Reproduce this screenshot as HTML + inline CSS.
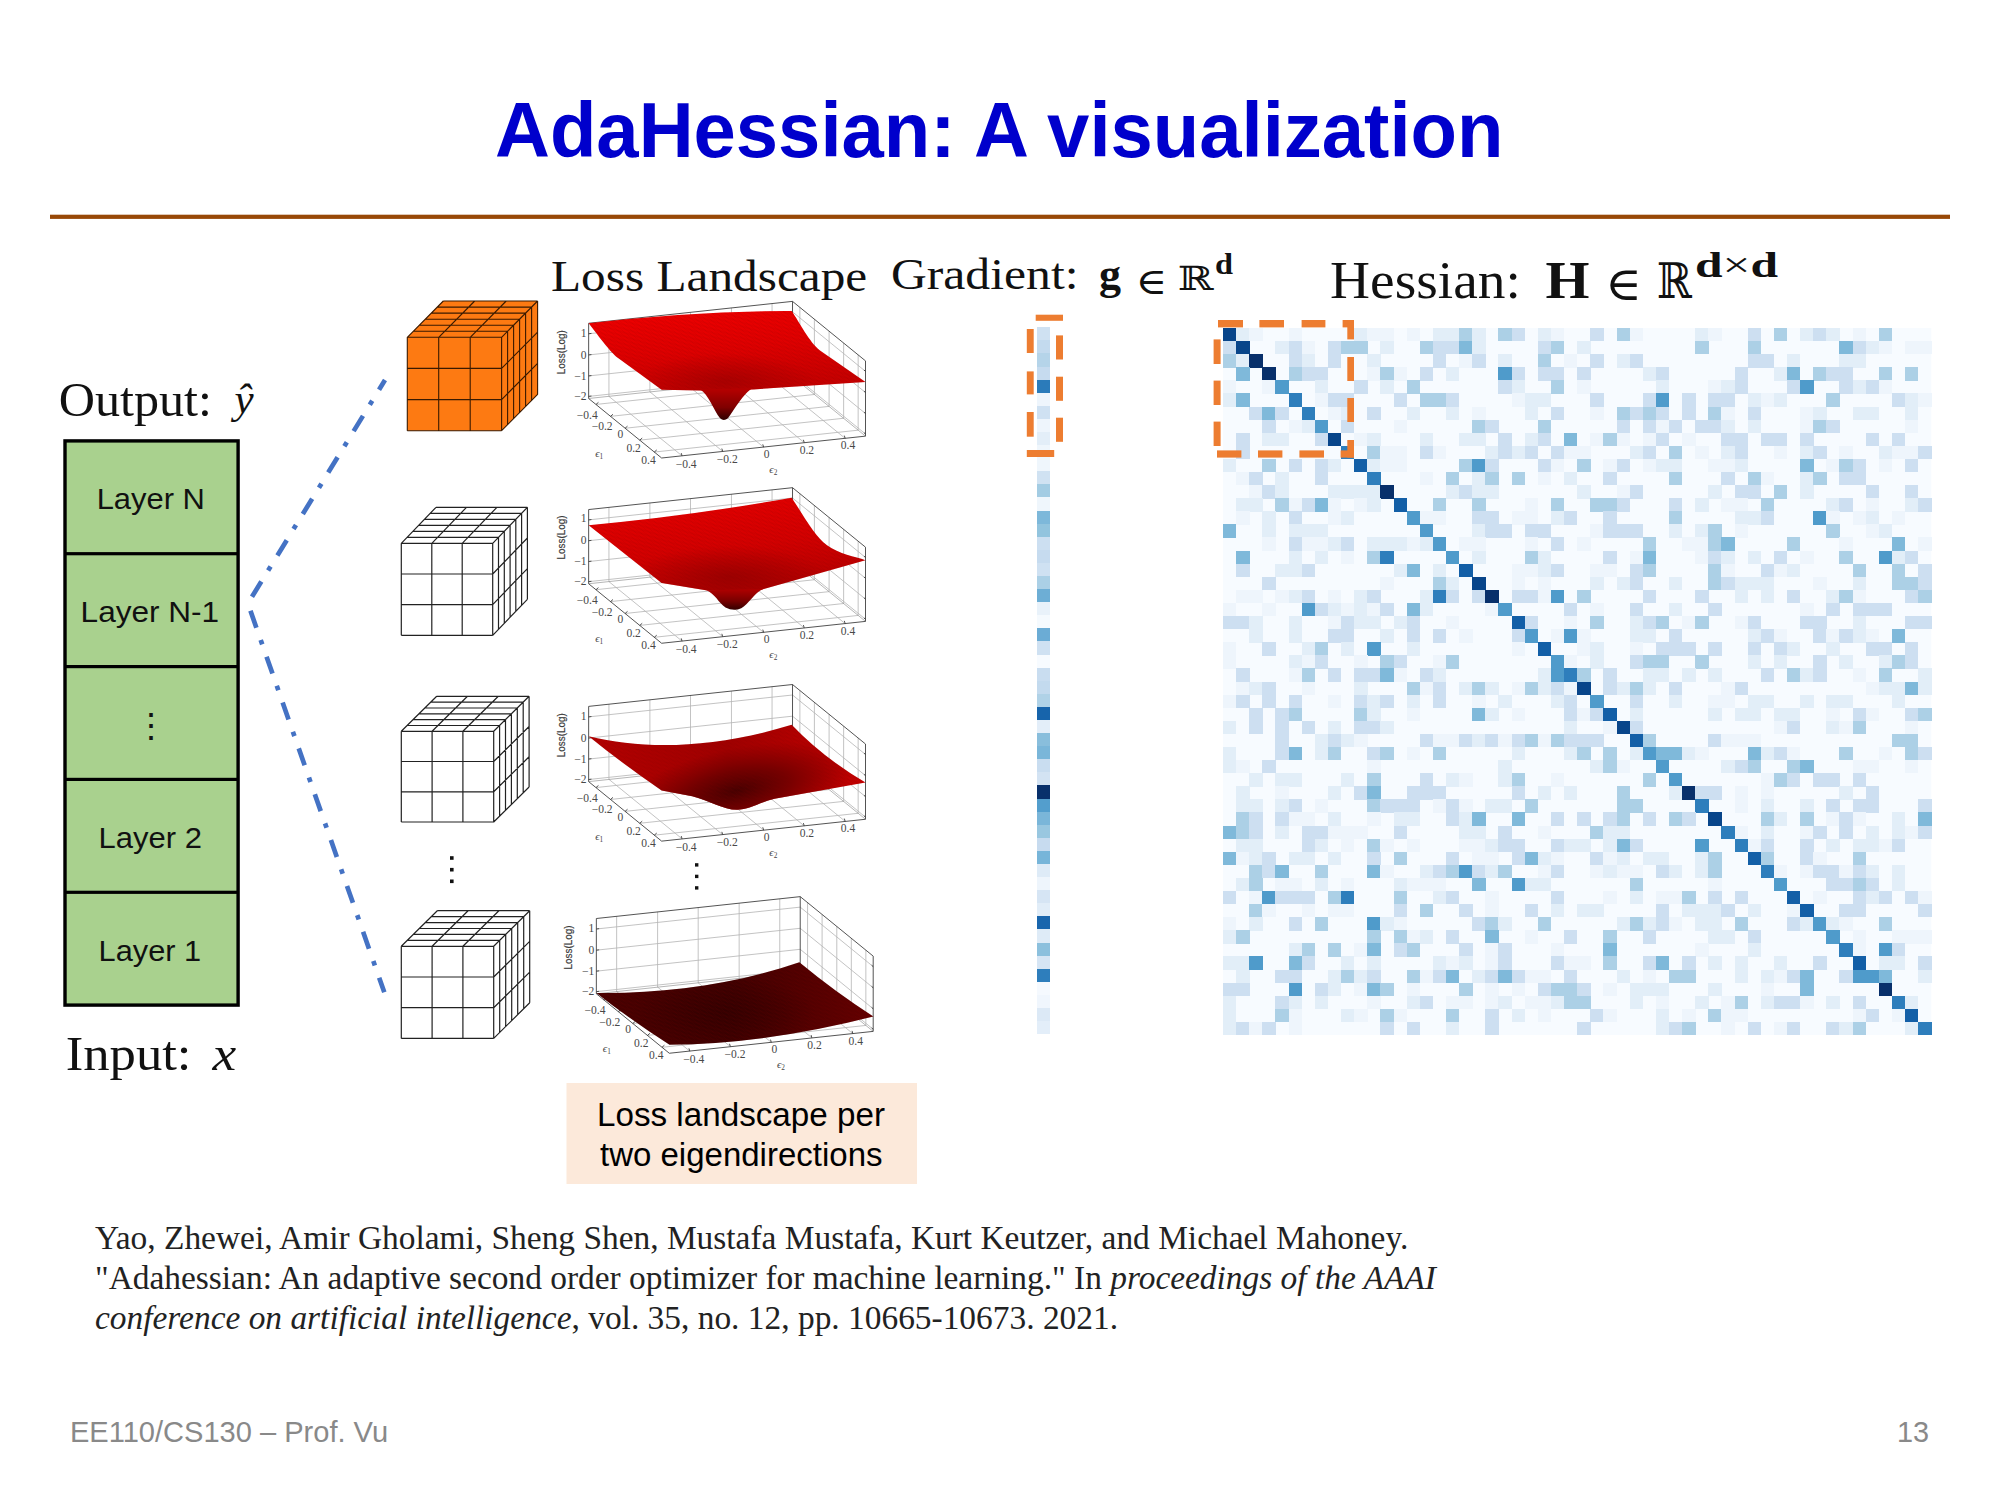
<!DOCTYPE html>
<html lang="en"><head><meta charset="utf-8"><title>AdaHessian: A visualization</title>
<style>
html,body{margin:0;padding:0;background:#fff;}
body{width:2000px;height:1500px;overflow:hidden;}
svg{display:block;}
text{white-space:pre;}
</style></head><body>
<svg width="2000" height="1500" viewBox="0 0 2000 1500">
<text x="495" y="157.3" font-family="'Liberation Sans', sans-serif" font-weight="700" font-size="78.5" fill="#0000cc" textLength="1008.4" lengthAdjust="spacingAndGlyphs">AdaHessian: A visualization</text>
<rect x="50" y="214.7" width="1900" height="4.2" fill="#984807"/>
<text x="58.7" y="415.5" font-family="'Liberation Serif', serif" font-size="48" fill="#111" textLength="153.2" lengthAdjust="spacingAndGlyphs">Output:</text>
<text x="234.6" y="413.4" font-family="'Liberation Serif', serif" font-style="italic" font-size="43" fill="#111">ŷ</text>
<rect x="65" y="440.9" width="173.1" height="564.2" fill="#a9d18e" stroke="#000" stroke-width="3.4"/>
<rect x="65" y="552.1" width="173.1" height="3.2" fill="#000"/>
<rect x="65" y="665.0" width="173.1" height="3.2" fill="#000"/>
<rect x="65" y="777.8" width="173.1" height="3.2" fill="#000"/>
<rect x="65" y="890.7" width="173.1" height="3.2" fill="#000"/>
<text x="96.7" y="509.3" font-family="'Liberation Sans', sans-serif" font-size="29" fill="#111" textLength="108.2" lengthAdjust="spacingAndGlyphs">Layer N</text>
<text x="80.6" y="622.2" font-family="'Liberation Sans', sans-serif" font-size="29" fill="#111" textLength="138.5" lengthAdjust="spacingAndGlyphs">Layer N-1</text>
<text x="151" y="736.5" text-anchor="middle" font-family="'Liberation Sans', sans-serif" font-size="34" fill="#111">⋮</text>
<text x="98.6" y="847.8" font-family="'Liberation Sans', sans-serif" font-size="29" fill="#111" textLength="103.3" lengthAdjust="spacingAndGlyphs">Layer 2</text>
<text x="98.6" y="960.7" font-family="'Liberation Sans', sans-serif" font-size="29" fill="#111" textLength="102.5" lengthAdjust="spacingAndGlyphs">Layer 1</text>
<text x="65.7" y="1069.5" font-family="'Liberation Serif', serif" font-size="48" fill="#111" textLength="125.8" lengthAdjust="spacingAndGlyphs">Input:</text>
<text x="212.6" y="1069.5" font-family="'Liberation Serif', serif" font-style="italic" font-size="48" fill="#111" textLength="23.7" lengthAdjust="spacingAndGlyphs">x</text>
<path d="M385,380L247.9,603.5" fill="none" stroke="#4472c4" stroke-width="4.7" stroke-dasharray="17.9,13,4.7,13" stroke-dashoffset="6.5"/><path d="M384.3,992.3L247.9,603.5" fill="none" stroke="#4472c4" stroke-width="4.7" stroke-dasharray="17.9,13,4.7,13" stroke-dashoffset="2.4"/>
<path d="M407.3,337.3L443.3,301.0L537.6,301.0L537.6,394.40000000000003L501.6,430.70000000000005L407.3,430.70000000000005z" fill="#fd7a12"/><path d="M407.3,337.3V430.70000000000005M407.3,337.3H501.6M438.7,337.3V430.70000000000005M407.3,368.4H501.6M470.2,337.3V430.70000000000005M407.3,399.6H501.6M501.6,337.3V430.70000000000005M407.3,430.7H501.6M407.3,337.3l36,-36.3M438.7,337.3l36,-36.3M470.2,337.3l36,-36.3M501.6,337.3l36,-36.3M413.3,331.2h94.3M419.3,325.2h94.3M425.3,319.2h94.3M431.3,313.1h94.3M437.3,307.1h94.3M443.3,301.0h94.3M501.6,337.3l36,-36.3M501.6,368.4l36,-36.3M501.6,399.6l36,-36.3M501.6,430.7l36,-36.3M507.6,331.2v93.4M513.6,325.2v93.4M519.6,319.2v93.4M525.6,313.1v93.4M531.6,307.1v93.4M537.6,301.0v93.4" fill="none" stroke="#3a1a00" stroke-width="1.1"/>
<path d="M401.3,543.3L436.0,507.29999999999995L527.4000000000001,507.29999999999995L527.4000000000001,599.3L492.70000000000005,635.3L401.3,635.3z" fill="#fff"/><path d="M401.3,543.3V635.3M401.3,543.3H492.70000000000005M431.8,543.3V635.3M401.3,574.0H492.70000000000005M462.2,543.3V635.3M401.3,604.6H492.70000000000005M492.7,543.3V635.3M401.3,635.3H492.70000000000005M401.3,543.3l34.7,-36M431.8,543.3l34.7,-36M462.2,543.3l34.7,-36M492.7,543.3l34.7,-36M407.1,537.3h91.4M412.9,531.3h91.4M418.7,525.3h91.4M424.4,519.3h91.4M430.2,513.3h91.4M436.0,507.3h91.4M492.70000000000005,543.3l34.7,-36M492.70000000000005,574.0l34.7,-36M492.70000000000005,604.6l34.7,-36M492.70000000000005,635.3l34.7,-36M498.5,537.3v92M504.3,531.3v92M510.1,525.3v92M515.8,519.3v92M521.6,513.3v92M527.4,507.3v92" fill="none" stroke="#222" stroke-width="1.2"/>
<path d="M401.3,731.3L436.7,696.3L529.1,696.3L529.1,787.0L493.70000000000005,822.0L401.3,822.0z" fill="#fff"/><path d="M401.3,731.3V822.0M401.3,731.3H493.70000000000005M432.1,731.3V822.0M401.3,761.5H493.70000000000005M462.9,731.3V822.0M401.3,791.8H493.70000000000005M493.7,731.3V822.0M401.3,822.0H493.70000000000005M401.3,731.3l35.4,-35M432.1,731.3l35.4,-35M462.9,731.3l35.4,-35M493.7,731.3l35.4,-35M407.2,725.5h92.4M413.1,719.6h92.4M419.0,713.8h92.4M424.9,708.0h92.4M430.8,702.1h92.4M436.7,696.3h92.4M493.70000000000005,731.3l35.4,-35M493.70000000000005,761.5l35.4,-35M493.70000000000005,791.8l35.4,-35M493.70000000000005,822.0l35.4,-35M499.6,725.5v90.7M505.5,719.6v90.7M511.4,713.8v90.7M517.3,708.0v90.7M523.2,702.1v90.7M529.1,696.3v90.7" fill="none" stroke="#222" stroke-width="1.2"/>
<path d="M401.3,946.3L437.3,910.6999999999999L529.7,910.6999999999999L529.7,1002.7999999999998L493.70000000000005,1038.3999999999999L401.3,1038.3999999999999z" fill="#fff"/><path d="M401.3,946.3V1038.3999999999999M401.3,946.3H493.70000000000005M432.1,946.3V1038.3999999999999M401.3,977.0H493.70000000000005M462.9,946.3V1038.3999999999999M401.3,1007.7H493.70000000000005M493.7,946.3V1038.3999999999999M401.3,1038.4H493.70000000000005M401.3,946.3l36,-35.6M432.1,946.3l36,-35.6M462.9,946.3l36,-35.6M493.7,946.3l36,-35.6M407.3,940.4h92.4M413.3,934.4h92.4M419.3,928.5h92.4M425.3,922.6h92.4M431.3,916.6h92.4M437.3,910.7h92.4M493.70000000000005,946.3l36,-35.6M493.70000000000005,977.0l36,-35.6M493.70000000000005,1007.7l36,-35.6M493.70000000000005,1038.4l36,-35.6M499.7,940.4v92.1M505.7,934.4v92.1M511.7,928.5v92.1M517.7,922.6v92.1M523.7,916.6v92.1M529.7,910.7v92.1" fill="none" stroke="#222" stroke-width="1.2"/>
<rect x="450" y="856.2" width="3.6" height="3.6" fill="#111"/>
<rect x="450" y="867.9000000000001" width="3.6" height="3.6" fill="#111"/>
<rect x="450" y="879.5" width="3.6" height="3.6" fill="#111"/>
<rect x="695" y="863.2" width="3.4" height="3.4" fill="#111"/>
<rect x="695" y="874.7" width="3.4" height="3.4" fill="#111"/>
<rect x="695" y="886.2" width="3.4" height="3.4" fill="#111"/>
<text x="551" y="291" font-family="'Liberation Serif', serif" font-size="44.5" fill="#111" textLength="316.2" lengthAdjust="spacingAndGlyphs">Loss Landscape</text>
<text x="890.9" y="288.5" font-family="'Liberation Serif', serif" font-size="43.5" fill="#111" textLength="187.6" lengthAdjust="spacingAndGlyphs">Gradient:</text>
<text x="1099" y="288.5" font-family="'Liberation Serif', serif" font-weight="700" font-size="44" fill="#111">g</text>
<text x="1135.5" y="294" font-family="'DejaVu Serif', serif" font-size="37" fill="#111" textLength="31.8" lengthAdjust="spacingAndGlyphs">∈</text>
<text x="1177.7" y="289.7" font-family="'DejaVu Serif', serif" font-size="33.5" fill="#111" textLength="35.9" lengthAdjust="spacingAndGlyphs">ℝ</text>
<text x="1215" y="274" font-family="'Liberation Serif', serif" font-weight="700" font-size="29" fill="#111" textLength="18" lengthAdjust="spacingAndGlyphs">d</text>
<text x="1330.1" y="298" font-family="'Liberation Serif', serif" font-size="53.5" fill="#111" textLength="190.8" lengthAdjust="spacingAndGlyphs">Hessian:</text>
<text x="1545.5" y="298" font-family="'Liberation Serif', serif" font-weight="700" font-size="53.5" fill="#111" textLength="44" lengthAdjust="spacingAndGlyphs">H</text>
<text x="1604.9" y="299.7" font-family="'DejaVu Serif', serif" font-size="47" fill="#111" textLength="37" lengthAdjust="spacingAndGlyphs">∈</text>
<text x="1657" y="298" font-family="'DejaVu Serif', serif" font-size="49" fill="#111" textLength="35" lengthAdjust="spacingAndGlyphs">ℝ</text>
<text x="1695" y="276.5" font-family="'Liberation Serif', serif" font-weight="700" font-size="36" fill="#111" textLength="83" lengthAdjust="spacingAndGlyphs">d<tspan font-weight="400">×</tspan>d</text>
<defs><pattern id="mesh" width="1" height="1" patternUnits="userSpaceOnUse" patternTransform="matrix(23.3 -2.5 8.34 6.8 0 0)"><path d="M0,0H1M0,0V1" stroke="#7a0000" stroke-opacity="0.4" stroke-width="0.16" fill="none"/></pattern></defs>
<g transform="translate(540,290) scale(0.175)"><defs><linearGradient id="s1" x1="0" y1="0" x2="0.25" y2="1"><stop offset="0" stop-color="#f20000"/><stop offset="0.55" stop-color="#e00000"/><stop offset="1" stop-color="#c80000"/></linearGradient>
<radialGradient id="d1" cx="1060" cy="520" r="520" gradientUnits="userSpaceOnUse" gradientTransform="translate(1060 520) scale(1 0.3) translate(-1060 -520)"><stop offset="0" stop-color="#8a0000" stop-opacity="0.5"/><stop offset="1" stop-color="#8a0000" stop-opacity="0"/></radialGradient>
<linearGradient id="w1" x1="0" y1="560" x2="0" y2="745" gradientUnits="userSpaceOnUse"><stop offset="0" stop-color="#b80000"/><stop offset="0.6" stop-color="#800000"/><stop offset="1" stop-color="#2a0000"/></linearGradient></defs><path d="M320,654L1485,529M394,608L812,948M394,608L394,178M1485,529L1485,99M403,722L1568,597M628,582L1044,922M628,582L628,152M1568,597L1568,167M486,790L1652,665M860,558L1278,898M860,558L860,128M1652,665L1652,235M570,858L1735,733M1094,532L1510,872M1094,532L1094,102M1735,733L1735,303M653,926L1818,801M1326,508L1744,848M1326,508L1326,78M1818,801L1818,371M278,608L1443,483M1443,483L1860,823M278,491L1443,366M1443,366L1860,706M278,371L1443,246M1443,246L1860,586M278,250L1443,125M1443,125L1860,465" fill="none" stroke="#b4b4b4" stroke-width="4.6"/><path d="M278,620L1443,495M1443,495L1860,835" fill="none" stroke="#8a8a8a" stroke-width="3.6"/><path d="M278,620L278,190M1443,495L1443,65M1860,835L1860,405M278,190L1443,65M1443,65L1860,405M278,620L695,960M695,960L1860,835M320,654l14,-12M812,948l-5,-16M403,722l14,-12M1044,922l-5,-16M486,790l14,-12M1278,898l-5,-16M570,858l14,-12M1510,872l-5,-16M653,926l14,-12M1744,848l-5,-16M278,608l16,-2M1860,823l-9,-8M278,491l16,-2M1860,706l-9,-8M278,371l16,-2M1860,586l-9,-8M278,250l16,-2M1860,465l-9,-8" fill="none" stroke="#3c3c3c" stroke-width="5"/><path d="M278,190Q900,118 1438,120C1480,180 1540,300 1600,345L1860,525L1215,568L915,574L695,570L450,392C410,362 370,310 278,190Z" fill="url(#s1)"/><path d="M278,190Q900,118 1438,120C1480,180 1540,300 1600,345L1860,525L1215,568L915,574L695,570L450,392C410,362 370,310 278,190Z" fill="url(#d1)"/><path d="M278,190Q900,118 1438,120C1480,180 1540,300 1600,345L1860,525L1215,568L915,574L695,570L450,392C410,362 370,310 278,190Z" fill="url(#mesh)"/><path d="M1215,562C1165,585 1105,695 1074,733Q1050,753 1029,733C992,685 962,595 915,568Z" fill="url(#w1)"/><g font-family="'Liberation Serif', serif" font-size="66" fill="#484848"><text x="266" y="267" text-anchor="end">1</text><text x="266" y="392" text-anchor="end">0</text><text x="266" y="512" text-anchor="end">−1</text><text x="266" y="627" text-anchor="end">−2</text><text x="270" y="737" text-anchor="middle">−0.4</text><text x="355" y="802" text-anchor="middle">−0.2</text><text x="460" y="847" text-anchor="middle">0</text><text x="535" y="927" text-anchor="middle">0.2</text><text x="620" y="992" text-anchor="middle">0.4</text><text x="835" y="1017" text-anchor="middle">−0.4</text><text x="1070" y="987" text-anchor="middle">−0.2</text><text x="1295" y="960" text-anchor="middle">0</text><text x="1525" y="935" text-anchor="middle">0.2</text><text x="1760" y="910" text-anchor="middle">0.4</text></g><g font-family="'Liberation Serif', serif" font-style="italic" font-size="62" fill="#484848"><text x="338" y="955" text-anchor="middle">ϵ<tspan font-size="42" dy="12" font-style="normal">1</tspan></text><text x="1333" y="1045" text-anchor="middle">ϵ<tspan font-size="42" dy="12" font-style="normal">2</tspan></text></g><text transform="translate(141,355) rotate(-90)" text-anchor="middle" font-family="'Liberation Sans', sans-serif" font-size="64" fill="#3a3a3a" stroke="#3a3a3a" stroke-width="1.2" textLength="252" lengthAdjust="spacingAndGlyphs">Loss(Log)</text></g>
<g transform="translate(540,470) scale(0.175)"><defs><linearGradient id="s2" x1="0.1" y1="0" x2="0.45" y2="1"><stop offset="0" stop-color="#ea0000"/><stop offset="0.6" stop-color="#d40000"/><stop offset="1" stop-color="#b80000"/></linearGradient>
<radialGradient id="d2" cx="1080" cy="610" r="560" gradientUnits="userSpaceOnUse" gradientTransform="translate(1080 610) scale(1 0.32) translate(-1080 -610)"><stop offset="0" stop-color="#800000" stop-opacity="0.55"/><stop offset="1" stop-color="#800000" stop-opacity="0"/></radialGradient>
<linearGradient id="w2" x1="0" y1="680" x2="0" y2="805" gradientUnits="userSpaceOnUse"><stop offset="0" stop-color="#b00000"/><stop offset="0.55" stop-color="#780000"/><stop offset="1" stop-color="#2a0000"/></linearGradient></defs><path d="M320,684L1485,559M394,638L812,978M394,638L394,214M1485,559L1485,135M403,752L1568,627M628,612L1044,952M628,612L628,188M1568,627L1568,203M486,820L1652,695M860,588L1278,928M860,588L860,164M1652,695L1652,271M570,888L1735,763M1094,562L1510,902M1094,562L1094,138M1735,763L1735,339M653,956L1818,831M1326,538L1744,878M1326,538L1326,114M1818,831L1818,407M278,638L1443,513M1443,513L1860,853M278,523L1443,398M1443,398L1860,738M278,404L1443,279M1443,279L1860,619M278,285L1443,160M1443,160L1860,500" fill="none" stroke="#b4b4b4" stroke-width="4.6"/><path d="M278,650L1443,525M1443,525L1860,865" fill="none" stroke="#8a8a8a" stroke-width="3.6"/><path d="M278,650L278,226M1443,525L1443,101M1860,865L1860,441M278,226L1443,101M1443,101L1860,441M278,650L695,990M695,990L1860,865M320,684l14,-12M812,978l-5,-16M403,752l14,-12M1044,952l-5,-16M486,820l14,-12M1278,928l-5,-16M570,888l14,-12M1510,902l-5,-16M653,956l14,-12M1744,878l-5,-16M278,638l16,-2M1860,853l-9,-8M278,523l16,-2M1860,738l-9,-8M278,404l16,-2M1860,619l-9,-8M278,285l16,-2M1860,500l-9,-8" fill="none" stroke="#3c3c3c" stroke-width="5"/><path d="M278,315Q860,262 1438,158C1500,250 1570,380 1640,430S1800,495 1860,515L1260,685L965,690L695,645Z" fill="url(#s2)"/><path d="M278,315Q860,262 1438,158C1500,250 1570,380 1640,430S1800,495 1860,515L1260,685L965,690L695,645Z" fill="url(#d2)"/><path d="M278,315Q860,262 1438,158C1500,250 1570,380 1640,430S1800,495 1860,515L1260,685L965,690L695,645Z" fill="url(#mesh)"/><path d="M1275,680C1225,700 1190,770 1150,790Q1105,810 1060,785C1020,760 1000,705 950,687Z" fill="url(#w2)"/><g font-family="'Liberation Serif', serif" font-size="66" fill="#484848"><text x="266" y="297" text-anchor="end">1</text><text x="266" y="422" text-anchor="end">0</text><text x="266" y="542" text-anchor="end">−1</text><text x="266" y="657" text-anchor="end">−2</text><text x="270" y="767" text-anchor="middle">−0.4</text><text x="355" y="832" text-anchor="middle">−0.2</text><text x="460" y="877" text-anchor="middle">0</text><text x="535" y="957" text-anchor="middle">0.2</text><text x="620" y="1022" text-anchor="middle">0.4</text><text x="835" y="1047" text-anchor="middle">−0.4</text><text x="1070" y="1017" text-anchor="middle">−0.2</text><text x="1295" y="990" text-anchor="middle">0</text><text x="1525" y="965" text-anchor="middle">0.2</text><text x="1760" y="940" text-anchor="middle">0.4</text></g><g font-family="'Liberation Serif', serif" font-style="italic" font-size="62" fill="#484848"><text x="338" y="985" text-anchor="middle">ϵ<tspan font-size="42" dy="12" font-style="normal">1</tspan></text><text x="1333" y="1075" text-anchor="middle">ϵ<tspan font-size="42" dy="12" font-style="normal">2</tspan></text></g><text transform="translate(141,385) rotate(-90)" text-anchor="middle" font-family="'Liberation Sans', sans-serif" font-size="64" fill="#3a3a3a" stroke="#3a3a3a" stroke-width="1.2" textLength="252" lengthAdjust="spacingAndGlyphs">Loss(Log)</text></g>
<g transform="translate(540,660) scale(0.175)"><defs><linearGradient id="s3" x1="0" y1="0" x2="1" y2="0"><stop offset="0" stop-color="#b40000"/><stop offset="0.5" stop-color="#a00000"/><stop offset="1" stop-color="#c40000"/></linearGradient>
<radialGradient id="d3" cx="1120" cy="748" r="680" gradientUnits="userSpaceOnUse" gradientTransform="translate(1120 748) rotate(-12) scale(1 0.36) translate(-1120 -748)"><stop offset="0" stop-color="#3a0000" stop-opacity="0.9"/><stop offset="0.45" stop-color="#500000" stop-opacity="0.6"/><stop offset="1" stop-color="#600000" stop-opacity="0"/></radialGradient></defs><path d="M320,729L1485,604M394,682L812,1022M394,682L394,252M1485,604L1485,174M403,797L1568,672M628,658L1044,998M628,658L628,228M1568,672L1568,242M486,865L1652,740M860,632L1278,972M860,632L860,202M1652,740L1652,310M570,933L1735,808M1094,608L1510,948M1094,608L1094,178M1735,808L1735,378M653,1001L1818,876M1326,582L1744,922M1326,582L1326,152M1818,876L1818,446M278,683L1443,558M1443,558L1860,898M278,566L1443,441M1443,441L1860,781M278,446L1443,321M1443,321L1860,661M278,325L1443,200M1443,200L1860,540" fill="none" stroke="#b4b4b4" stroke-width="4.6"/><path d="M278,695L1443,570M1443,570L1860,910" fill="none" stroke="#8a8a8a" stroke-width="3.6"/><path d="M278,695L278,265M1443,570L1443,140M1860,910L1860,480M278,265L1443,140M1443,140L1860,480M278,695L695,1035M695,1035L1860,910M320,729l14,-12M812,1022l-5,-16M403,797l14,-12M1044,998l-5,-16M486,865l14,-12M1278,972l-5,-16M570,933l14,-12M1510,948l-5,-16M653,1001l14,-12M1744,922l-5,-16M278,683l16,-2M1860,898l-9,-8M278,566l16,-2M1860,781l-9,-8M278,446l16,-2M1860,661l-9,-8M278,325l16,-2M1860,540l-9,-8" fill="none" stroke="#3c3c3c" stroke-width="5"/><path d="M278,435C600,515 1000,505 1438,370Q1620,560 1860,700L1340,793C1260,812 1195,856 1125,856C1050,856 960,800 870,778L695,745Q480,600 278,435Z" fill="url(#s3)"/><path d="M278,435C600,515 1000,505 1438,370Q1620,560 1860,700L1340,793C1260,812 1195,856 1125,856C1050,856 960,800 870,778L695,745Q480,600 278,435Z" fill="url(#d3)"/><path d="M278,435C600,515 1000,505 1438,370Q1620,560 1860,700L1340,793C1260,812 1195,856 1125,856C1050,856 960,800 870,778L695,745Q480,600 278,435Z" fill="url(#mesh)"/><g font-family="'Liberation Serif', serif" font-size="66" fill="#484848"><text x="266" y="342" text-anchor="end">1</text><text x="266" y="467" text-anchor="end">0</text><text x="266" y="587" text-anchor="end">−1</text><text x="266" y="702" text-anchor="end">−2</text><text x="270" y="812" text-anchor="middle">−0.4</text><text x="355" y="877" text-anchor="middle">−0.2</text><text x="460" y="922" text-anchor="middle">0</text><text x="535" y="1002" text-anchor="middle">0.2</text><text x="620" y="1067" text-anchor="middle">0.4</text><text x="835" y="1092" text-anchor="middle">−0.4</text><text x="1070" y="1062" text-anchor="middle">−0.2</text><text x="1295" y="1035" text-anchor="middle">0</text><text x="1525" y="1010" text-anchor="middle">0.2</text><text x="1760" y="985" text-anchor="middle">0.4</text></g><g font-family="'Liberation Serif', serif" font-style="italic" font-size="62" fill="#484848"><text x="338" y="1030" text-anchor="middle">ϵ<tspan font-size="42" dy="12" font-style="normal">1</tspan></text><text x="1333" y="1120" text-anchor="middle">ϵ<tspan font-size="42" dy="12" font-style="normal">2</tspan></text></g><text transform="translate(141,430) rotate(-90)" text-anchor="middle" font-family="'Liberation Sans', sans-serif" font-size="64" fill="#3a3a3a" stroke="#3a3a3a" stroke-width="1.2" textLength="252" lengthAdjust="spacingAndGlyphs">Loss(Log)</text></g>
<g transform="translate(540,880) scale(0.175)"><defs><linearGradient id="s4" x1="0" y1="0" x2="1" y2="0"><stop offset="0" stop-color="#460000"/><stop offset="0.5" stop-color="#3e0000"/><stop offset="1" stop-color="#620000"/></linearGradient>
<radialGradient id="d4" cx="1050" cy="760" r="520" gradientUnits="userSpaceOnUse" gradientTransform="translate(1050 760) scale(1 0.4) translate(-1050 -760)"><stop offset="0" stop-color="#2c0000" stop-opacity="0.7"/><stop offset="1" stop-color="#2c0000" stop-opacity="0"/></radialGradient></defs><path d="M364,684L1529,559M438,638L856,978M438,638L438,208M1529,559L1529,129M447,752L1612,627M672,612L1088,952M672,612L672,182M1612,627L1612,197M530,820L1696,695M904,588L1322,928M904,588L904,158M1696,695L1696,265M614,888L1779,763M1138,562L1554,902M1138,562L1138,132M1779,763L1779,333M697,956L1862,831M1370,538L1788,878M1370,538L1370,108M1862,831L1862,401M322,638L1487,513M1487,513L1904,853M322,521L1487,396M1487,396L1904,736M322,401L1487,276M1487,276L1904,616M322,280L1487,155M1487,155L1904,495" fill="none" stroke="#b4b4b4" stroke-width="4.6"/><path d="M322,650L1487,525M1487,525L1904,865" fill="none" stroke="#8a8a8a" stroke-width="3.6"/><path d="M322,650L322,220M1487,525L1487,95M1904,865L1904,435M322,220L1487,95M1487,95L1904,435M322,650L739,990M739,990L1904,865M364,684l14,-12M856,978l-5,-16M447,752l14,-12M1088,952l-5,-16M530,820l14,-12M1322,928l-5,-16M614,888l14,-12M1554,902l-5,-16M697,956l14,-12M1788,878l-5,-16M322,638l16,-2M1904,853l-9,-8M322,521l16,-2M1904,736l-9,-8M322,401l16,-2M1904,616l-9,-8M322,280l16,-2M1904,495l-9,-8" fill="none" stroke="#3c3c3c" stroke-width="5"/><path d="M322,645C700,650 1100,600 1482,470Q1685,638 1905,780Q1300,935 740,942Q520,800 322,645Z" fill="url(#s4)"/><path d="M322,645C700,650 1100,600 1482,470Q1685,638 1905,780Q1300,935 740,942Q520,800 322,645Z" fill="url(#d4)"/><path d="M322,645C700,650 1100,600 1482,470Q1685,638 1905,780Q1300,935 740,942Q520,800 322,645Z" fill="url(#mesh)"/><g font-family="'Liberation Serif', serif" font-size="66" fill="#484848"><text x="310" y="297" text-anchor="end">1</text><text x="310" y="422" text-anchor="end">0</text><text x="310" y="542" text-anchor="end">−1</text><text x="310" y="657" text-anchor="end">−2</text><text x="314" y="767" text-anchor="middle">−0.4</text><text x="399" y="832" text-anchor="middle">−0.2</text><text x="504" y="877" text-anchor="middle">0</text><text x="579" y="957" text-anchor="middle">0.2</text><text x="664" y="1022" text-anchor="middle">0.4</text><text x="879" y="1047" text-anchor="middle">−0.4</text><text x="1114" y="1017" text-anchor="middle">−0.2</text><text x="1339" y="990" text-anchor="middle">0</text><text x="1569" y="965" text-anchor="middle">0.2</text><text x="1804" y="940" text-anchor="middle">0.4</text></g><g font-family="'Liberation Serif', serif" font-style="italic" font-size="62" fill="#484848"><text x="382" y="985" text-anchor="middle">ϵ<tspan font-size="42" dy="12" font-style="normal">1</tspan></text><text x="1377" y="1075" text-anchor="middle">ϵ<tspan font-size="42" dy="12" font-style="normal">2</tspan></text></g><text transform="translate(185,385) rotate(-90)" text-anchor="middle" font-family="'Liberation Sans', sans-serif" font-size="64" fill="#3a3a3a" stroke="#3a3a3a" stroke-width="1.2" textLength="252" lengthAdjust="spacingAndGlyphs">Loss(Log)</text></g>
<g shape-rendering="crispEdges"><rect x="1037" y="327.30" width="13.4" height="13.39" fill="#cfe1f2"/><rect x="1037" y="340.39" width="13.4" height="13.39" fill="#c3daee"/><rect x="1037" y="353.48" width="13.4" height="13.39" fill="#b5d4e9"/><rect x="1037" y="366.57" width="13.4" height="13.39" fill="#c6dbef"/><rect x="1037" y="379.66" width="13.4" height="13.39" fill="#2b7bba"/><rect x="1037" y="392.75" width="13.4" height="13.39" fill="#eef5fc"/><rect x="1037" y="405.84" width="13.4" height="13.39" fill="#cfe1f2"/><rect x="1037" y="418.93" width="13.4" height="13.39" fill="#eef5fc"/><rect x="1037" y="432.02" width="13.4" height="13.39" fill="#e3eef8"/><rect x="1037" y="445.11" width="13.4" height="13.39" fill="#eff6fc"/><rect x="1037" y="458.20" width="13.4" height="13.39" fill="#eff6fc"/><rect x="1037" y="471.29" width="13.4" height="13.39" fill="#d0e2f2"/><rect x="1037" y="484.38" width="13.4" height="13.39" fill="#a3cce3"/><rect x="1037" y="497.47" width="13.4" height="13.39" fill="#eff6fc"/><rect x="1037" y="510.56" width="13.4" height="13.39" fill="#7db8da"/><rect x="1037" y="523.65" width="13.4" height="13.39" fill="#92c4de"/><rect x="1037" y="536.74" width="13.4" height="13.39" fill="#ccdff1"/><rect x="1037" y="549.83" width="13.4" height="13.39" fill="#c6dbef"/><rect x="1037" y="562.92" width="13.4" height="13.39" fill="#cfe1f2"/><rect x="1037" y="576.01" width="13.4" height="13.39" fill="#abd0e6"/><rect x="1037" y="589.10" width="13.4" height="13.39" fill="#6daed5"/><rect x="1037" y="602.19" width="13.4" height="13.39" fill="#e9f2fa"/><rect x="1037" y="615.28" width="13.4" height="13.39" fill="#f5fafe"/><rect x="1037" y="628.37" width="13.4" height="13.39" fill="#6bacd5"/><rect x="1037" y="641.46" width="13.4" height="13.39" fill="#cfe1f2"/><rect x="1037" y="654.55" width="13.4" height="13.39" fill="#f7fbff"/><rect x="1037" y="667.64" width="13.4" height="13.39" fill="#c9ddf0"/><rect x="1037" y="680.73" width="13.4" height="13.39" fill="#c3daee"/><rect x="1037" y="693.82" width="13.4" height="13.39" fill="#b0d2e7"/><rect x="1037" y="706.91" width="13.4" height="13.39" fill="#1764ab"/><rect x="1037" y="720.00" width="13.4" height="13.39" fill="#e3eef9"/><rect x="1037" y="733.09" width="13.4" height="13.39" fill="#89bedc"/><rect x="1037" y="746.18" width="13.4" height="13.39" fill="#7ab6d9"/><rect x="1037" y="759.27" width="13.4" height="13.39" fill="#c9ddf0"/><rect x="1037" y="772.36" width="13.4" height="13.39" fill="#d3e3f3"/><rect x="1037" y="785.45" width="13.4" height="13.39" fill="#08306b"/><rect x="1037" y="798.54" width="13.4" height="13.39" fill="#539ecd"/><rect x="1037" y="811.63" width="13.4" height="13.39" fill="#7ab6d9"/><rect x="1037" y="824.72" width="13.4" height="13.39" fill="#99c7e0"/><rect x="1037" y="837.81" width="13.4" height="13.39" fill="#c7dbef"/><rect x="1037" y="850.90" width="13.4" height="13.39" fill="#77b5d9"/><rect x="1037" y="863.99" width="13.4" height="13.39" fill="#deebf7"/><rect x="1037" y="877.08" width="13.4" height="13.39" fill="#eef5fc"/><rect x="1037" y="890.17" width="13.4" height="13.39" fill="#d6e5f4"/><rect x="1037" y="903.26" width="13.4" height="13.39" fill="#e1edf8"/><rect x="1037" y="916.35" width="13.4" height="13.39" fill="#1966ad"/><rect x="1037" y="929.44" width="13.4" height="13.39" fill="#deebf7"/><rect x="1037" y="942.53" width="13.4" height="13.39" fill="#8cc0dd"/><rect x="1037" y="955.62" width="13.4" height="13.39" fill="#d6e5f4"/><rect x="1037" y="968.71" width="13.4" height="13.39" fill="#2e7ebc"/><rect x="1037" y="981.80" width="13.4" height="13.39" fill="#f5f9fe"/><rect x="1037" y="994.89" width="13.4" height="13.39" fill="#f0f6fd"/><rect x="1037" y="1007.98" width="13.4" height="13.39" fill="#dce9f6"/><rect x="1037" y="1021.07" width="13.4" height="13.39" fill="#e3eef9"/></g><rect x="1035.7" y="314.7" width="27.3" height="6.1" fill="#ed7d31"/><rect x="1026.8" y="450" width="27.4" height="7" fill="#ed7d31"/><rect x="1026.8" y="329" width="6.9" height="24" fill="#ed7d31"/><rect x="1026.8" y="371.4" width="6.9" height="23" fill="#ed7d31"/><rect x="1026.8" y="412" width="6.9" height="24.7" fill="#ed7d31"/><rect x="1056" y="335.4" width="7" height="24.1" fill="#ed7d31"/><rect x="1056" y="376.7" width="7" height="24.1" fill="#ed7d31"/><rect x="1056" y="417.7" width="7" height="24.1" fill="#ed7d31"/>
<rect x="1223.0" y="328.0" width="708.3" height="707" fill="#f7fbff"/><g shape-rendering="crispEdges"><rect x="1223.00" y="328.00" width="13.42" height="13.39" fill="#08458a"/><rect x="1236.12" y="328.00" width="13.42" height="13.39" fill="#e2eef8"/><rect x="1249.23" y="328.00" width="13.42" height="13.39" fill="#eef5fc"/><rect x="1288.58" y="328.00" width="13.42" height="13.39" fill="#eef5fc"/><rect x="1354.17" y="328.00" width="13.42" height="13.39" fill="#e2eef8"/><rect x="1367.28" y="328.00" width="13.42" height="13.39" fill="#eef5fc"/><rect x="1380.40" y="328.00" width="13.42" height="13.39" fill="#eef5fc"/><rect x="1406.63" y="328.00" width="13.42" height="13.39" fill="#eef5fc"/><rect x="1432.87" y="328.00" width="13.42" height="13.39" fill="#e2eef8"/><rect x="1445.98" y="328.00" width="13.42" height="13.39" fill="#e2eef8"/><rect x="1459.10" y="328.00" width="13.42" height="13.39" fill="#acd0e6"/><rect x="1472.22" y="328.00" width="13.42" height="13.39" fill="#e2eef8"/><rect x="1498.45" y="328.00" width="13.42" height="13.39" fill="#acd0e6"/><rect x="1511.57" y="328.00" width="13.42" height="13.39" fill="#cddff1"/><rect x="1537.80" y="328.00" width="13.42" height="13.39" fill="#e2eef8"/><rect x="1550.92" y="328.00" width="13.42" height="13.39" fill="#eef5fc"/><rect x="1590.27" y="328.00" width="13.42" height="13.39" fill="#cddff1"/><rect x="1616.50" y="328.00" width="13.42" height="13.39" fill="#acd0e6"/><rect x="1629.62" y="328.00" width="13.42" height="13.39" fill="#eef5fc"/><rect x="1695.20" y="328.00" width="13.42" height="13.39" fill="#e2eef8"/><rect x="1708.32" y="328.00" width="13.42" height="13.39" fill="#eef5fc"/><rect x="1747.67" y="328.00" width="13.42" height="13.39" fill="#cddff1"/><rect x="1773.90" y="328.00" width="13.42" height="13.39" fill="#acd0e6"/><rect x="1800.13" y="328.00" width="13.42" height="13.39" fill="#e2eef8"/><rect x="1813.25" y="328.00" width="13.42" height="13.39" fill="#cddff1"/><rect x="1826.37" y="328.00" width="13.42" height="13.39" fill="#e2eef8"/><rect x="1852.60" y="328.00" width="13.42" height="13.39" fill="#eef5fc"/><rect x="1878.83" y="328.00" width="13.42" height="13.39" fill="#acd0e6"/><rect x="1223.00" y="341.09" width="13.42" height="13.39" fill="#cddff1"/><rect x="1236.12" y="341.09" width="13.42" height="13.39" fill="#08458a"/><rect x="1275.47" y="341.09" width="13.42" height="13.39" fill="#e2eef8"/><rect x="1288.58" y="341.09" width="13.42" height="13.39" fill="#cddff1"/><rect x="1301.70" y="341.09" width="13.42" height="13.39" fill="#eef5fc"/><rect x="1327.93" y="341.09" width="13.42" height="13.39" fill="#cddff1"/><rect x="1341.05" y="341.09" width="13.42" height="13.39" fill="#acd0e6"/><rect x="1354.17" y="341.09" width="13.42" height="13.39" fill="#acd0e6"/><rect x="1380.40" y="341.09" width="13.42" height="13.39" fill="#e2eef8"/><rect x="1419.75" y="341.09" width="13.42" height="13.39" fill="#acd0e6"/><rect x="1432.87" y="341.09" width="13.42" height="13.39" fill="#cddff1"/><rect x="1445.98" y="341.09" width="13.42" height="13.39" fill="#cddff1"/><rect x="1459.10" y="341.09" width="13.42" height="13.39" fill="#7fb9da"/><rect x="1472.22" y="341.09" width="13.42" height="13.39" fill="#e2eef8"/><rect x="1537.80" y="341.09" width="13.42" height="13.39" fill="#cddff1"/><rect x="1550.92" y="341.09" width="13.42" height="13.39" fill="#acd0e6"/><rect x="1577.15" y="341.09" width="13.42" height="13.39" fill="#e2eef8"/><rect x="1695.20" y="341.09" width="13.42" height="13.39" fill="#acd0e6"/><rect x="1747.67" y="341.09" width="13.42" height="13.39" fill="#acd0e6"/><rect x="1839.48" y="341.09" width="13.42" height="13.39" fill="#7fb9da"/><rect x="1852.60" y="341.09" width="13.42" height="13.39" fill="#cddff1"/><rect x="1865.72" y="341.09" width="13.42" height="13.39" fill="#e2eef8"/><rect x="1878.83" y="341.09" width="13.42" height="13.39" fill="#eef5fc"/><rect x="1905.07" y="341.09" width="13.42" height="13.39" fill="#eef5fc"/><rect x="1918.18" y="341.09" width="13.42" height="13.39" fill="#eef5fc"/><rect x="1223.00" y="354.19" width="13.42" height="13.39" fill="#acd0e6"/><rect x="1236.12" y="354.19" width="13.42" height="13.39" fill="#e2eef8"/><rect x="1249.23" y="354.19" width="13.42" height="13.39" fill="#08306b"/><rect x="1288.58" y="354.19" width="13.42" height="13.39" fill="#cddff1"/><rect x="1301.70" y="354.19" width="13.42" height="13.39" fill="#e2eef8"/><rect x="1327.93" y="354.19" width="13.42" height="13.39" fill="#cddff1"/><rect x="1367.28" y="354.19" width="13.42" height="13.39" fill="#e2eef8"/><rect x="1432.87" y="354.19" width="13.42" height="13.39" fill="#cddff1"/><rect x="1459.10" y="354.19" width="13.42" height="13.39" fill="#eef5fc"/><rect x="1472.22" y="354.19" width="13.42" height="13.39" fill="#cddff1"/><rect x="1498.45" y="354.19" width="13.42" height="13.39" fill="#e2eef8"/><rect x="1537.80" y="354.19" width="13.42" height="13.39" fill="#acd0e6"/><rect x="1564.03" y="354.19" width="13.42" height="13.39" fill="#eef5fc"/><rect x="1590.27" y="354.19" width="13.42" height="13.39" fill="#cddff1"/><rect x="1616.50" y="354.19" width="13.42" height="13.39" fill="#e2eef8"/><rect x="1629.62" y="354.19" width="13.42" height="13.39" fill="#cddff1"/><rect x="1747.67" y="354.19" width="13.42" height="13.39" fill="#cddff1"/><rect x="1760.78" y="354.19" width="13.42" height="13.39" fill="#cddff1"/><rect x="1787.02" y="354.19" width="13.42" height="13.39" fill="#e2eef8"/><rect x="1839.48" y="354.19" width="13.42" height="13.39" fill="#e2eef8"/><rect x="1852.60" y="354.19" width="13.42" height="13.39" fill="#e2eef8"/><rect x="1236.12" y="367.28" width="13.42" height="13.39" fill="#7fb9da"/><rect x="1262.35" y="367.28" width="13.42" height="13.39" fill="#08306b"/><rect x="1288.58" y="367.28" width="13.42" height="13.39" fill="#acd0e6"/><rect x="1301.70" y="367.28" width="13.42" height="13.39" fill="#cddff1"/><rect x="1314.82" y="367.28" width="13.42" height="13.39" fill="#cddff1"/><rect x="1367.28" y="367.28" width="13.42" height="13.39" fill="#eef5fc"/><rect x="1380.40" y="367.28" width="13.42" height="13.39" fill="#acd0e6"/><rect x="1393.52" y="367.28" width="13.42" height="13.39" fill="#eef5fc"/><rect x="1419.75" y="367.28" width="13.42" height="13.39" fill="#cddff1"/><rect x="1445.98" y="367.28" width="13.42" height="13.39" fill="#e2eef8"/><rect x="1498.45" y="367.28" width="13.42" height="13.39" fill="#4f9bcb"/><rect x="1511.57" y="367.28" width="13.42" height="13.39" fill="#cddff1"/><rect x="1537.80" y="367.28" width="13.42" height="13.39" fill="#cddff1"/><rect x="1550.92" y="367.28" width="13.42" height="13.39" fill="#cddff1"/><rect x="1577.15" y="367.28" width="13.42" height="13.39" fill="#cddff1"/><rect x="1642.73" y="367.28" width="13.42" height="13.39" fill="#e2eef8"/><rect x="1655.85" y="367.28" width="13.42" height="13.39" fill="#cddff1"/><rect x="1734.55" y="367.28" width="13.42" height="13.39" fill="#cddff1"/><rect x="1773.90" y="367.28" width="13.42" height="13.39" fill="#e2eef8"/><rect x="1787.02" y="367.28" width="13.42" height="13.39" fill="#7fb9da"/><rect x="1813.25" y="367.28" width="13.42" height="13.39" fill="#acd0e6"/><rect x="1826.37" y="367.28" width="13.42" height="13.39" fill="#cddff1"/><rect x="1839.48" y="367.28" width="13.42" height="13.39" fill="#cddff1"/><rect x="1878.83" y="367.28" width="13.42" height="13.39" fill="#acd0e6"/><rect x="1905.07" y="367.28" width="13.42" height="13.39" fill="#acd0e6"/><rect x="1223.00" y="380.37" width="13.42" height="13.39" fill="#eef5fc"/><rect x="1262.35" y="380.37" width="13.42" height="13.39" fill="#eef5fc"/><rect x="1275.47" y="380.37" width="13.42" height="13.39" fill="#4f9bcb"/><rect x="1314.82" y="380.37" width="13.42" height="13.39" fill="#e2eef8"/><rect x="1354.17" y="380.37" width="13.42" height="13.39" fill="#cddff1"/><rect x="1380.40" y="380.37" width="13.42" height="13.39" fill="#e2eef8"/><rect x="1406.63" y="380.37" width="13.42" height="13.39" fill="#acd0e6"/><rect x="1498.45" y="380.37" width="13.42" height="13.39" fill="#cddff1"/><rect x="1511.57" y="380.37" width="13.42" height="13.39" fill="#e2eef8"/><rect x="1550.92" y="380.37" width="13.42" height="13.39" fill="#acd0e6"/><rect x="1577.15" y="380.37" width="13.42" height="13.39" fill="#eef5fc"/><rect x="1655.85" y="380.37" width="13.42" height="13.39" fill="#e2eef8"/><rect x="1708.32" y="380.37" width="13.42" height="13.39" fill="#eef5fc"/><rect x="1721.43" y="380.37" width="13.42" height="13.39" fill="#e2eef8"/><rect x="1734.55" y="380.37" width="13.42" height="13.39" fill="#cddff1"/><rect x="1787.02" y="380.37" width="13.42" height="13.39" fill="#cddff1"/><rect x="1800.13" y="380.37" width="13.42" height="13.39" fill="#4f9bcb"/><rect x="1839.48" y="380.37" width="13.42" height="13.39" fill="#cddff1"/><rect x="1852.60" y="380.37" width="13.42" height="13.39" fill="#e2eef8"/><rect x="1865.72" y="380.37" width="13.42" height="13.39" fill="#cddff1"/><rect x="1878.83" y="380.37" width="13.42" height="13.39" fill="#eef5fc"/><rect x="1223.00" y="393.46" width="13.42" height="13.39" fill="#e2eef8"/><rect x="1236.12" y="393.46" width="13.42" height="13.39" fill="#7fb9da"/><rect x="1288.58" y="393.46" width="13.42" height="13.39" fill="#2e7ebc"/><rect x="1314.82" y="393.46" width="13.42" height="13.39" fill="#eef5fc"/><rect x="1327.93" y="393.46" width="13.42" height="13.39" fill="#cddff1"/><rect x="1341.05" y="393.46" width="13.42" height="13.39" fill="#cddff1"/><rect x="1393.52" y="393.46" width="13.42" height="13.39" fill="#cddff1"/><rect x="1419.75" y="393.46" width="13.42" height="13.39" fill="#acd0e6"/><rect x="1432.87" y="393.46" width="13.42" height="13.39" fill="#acd0e6"/><rect x="1445.98" y="393.46" width="13.42" height="13.39" fill="#cddff1"/><rect x="1511.57" y="393.46" width="13.42" height="13.39" fill="#eef5fc"/><rect x="1524.68" y="393.46" width="13.42" height="13.39" fill="#e2eef8"/><rect x="1537.80" y="393.46" width="13.42" height="13.39" fill="#e2eef8"/><rect x="1590.27" y="393.46" width="13.42" height="13.39" fill="#cddff1"/><rect x="1642.73" y="393.46" width="13.42" height="13.39" fill="#cddff1"/><rect x="1655.85" y="393.46" width="13.42" height="13.39" fill="#4f9bcb"/><rect x="1682.08" y="393.46" width="13.42" height="13.39" fill="#cddff1"/><rect x="1708.32" y="393.46" width="13.42" height="13.39" fill="#cddff1"/><rect x="1721.43" y="393.46" width="13.42" height="13.39" fill="#cddff1"/><rect x="1747.67" y="393.46" width="13.42" height="13.39" fill="#e2eef8"/><rect x="1760.78" y="393.46" width="13.42" height="13.39" fill="#eef5fc"/><rect x="1773.90" y="393.46" width="13.42" height="13.39" fill="#e2eef8"/><rect x="1826.37" y="393.46" width="13.42" height="13.39" fill="#acd0e6"/><rect x="1891.95" y="393.46" width="13.42" height="13.39" fill="#cddff1"/><rect x="1905.07" y="393.46" width="13.42" height="13.39" fill="#e2eef8"/><rect x="1918.18" y="393.46" width="13.42" height="13.39" fill="#eef5fc"/><rect x="1249.23" y="406.56" width="13.42" height="13.39" fill="#cddff1"/><rect x="1262.35" y="406.56" width="13.42" height="13.39" fill="#7fb9da"/><rect x="1275.47" y="406.56" width="13.42" height="13.39" fill="#cddff1"/><rect x="1301.70" y="406.56" width="13.42" height="13.39" fill="#2e7ebc"/><rect x="1327.93" y="406.56" width="13.42" height="13.39" fill="#eef5fc"/><rect x="1341.05" y="406.56" width="13.42" height="13.39" fill="#e2eef8"/><rect x="1367.28" y="406.56" width="13.42" height="13.39" fill="#cddff1"/><rect x="1406.63" y="406.56" width="13.42" height="13.39" fill="#e2eef8"/><rect x="1445.98" y="406.56" width="13.42" height="13.39" fill="#e2eef8"/><rect x="1472.22" y="406.56" width="13.42" height="13.39" fill="#eef5fc"/><rect x="1524.68" y="406.56" width="13.42" height="13.39" fill="#e2eef8"/><rect x="1550.92" y="406.56" width="13.42" height="13.39" fill="#cddff1"/><rect x="1590.27" y="406.56" width="13.42" height="13.39" fill="#eef5fc"/><rect x="1616.50" y="406.56" width="13.42" height="13.39" fill="#acd0e6"/><rect x="1629.62" y="406.56" width="13.42" height="13.39" fill="#cddff1"/><rect x="1642.73" y="406.56" width="13.42" height="13.39" fill="#acd0e6"/><rect x="1655.85" y="406.56" width="13.42" height="13.39" fill="#cddff1"/><rect x="1682.08" y="406.56" width="13.42" height="13.39" fill="#cddff1"/><rect x="1708.32" y="406.56" width="13.42" height="13.39" fill="#acd0e6"/><rect x="1721.43" y="406.56" width="13.42" height="13.39" fill="#eef5fc"/><rect x="1747.67" y="406.56" width="13.42" height="13.39" fill="#cddff1"/><rect x="1800.13" y="406.56" width="13.42" height="13.39" fill="#eef5fc"/><rect x="1813.25" y="406.56" width="13.42" height="13.39" fill="#e2eef8"/><rect x="1852.60" y="406.56" width="13.42" height="13.39" fill="#e2eef8"/><rect x="1865.72" y="406.56" width="13.42" height="13.39" fill="#e2eef8"/><rect x="1905.07" y="406.56" width="13.42" height="13.39" fill="#e2eef8"/><rect x="1262.35" y="419.65" width="13.42" height="13.39" fill="#cddff1"/><rect x="1288.58" y="419.65" width="13.42" height="13.39" fill="#eef5fc"/><rect x="1301.70" y="419.65" width="13.42" height="13.39" fill="#e2eef8"/><rect x="1314.82" y="419.65" width="13.42" height="13.39" fill="#4f9bcb"/><rect x="1341.05" y="419.65" width="13.42" height="13.39" fill="#cddff1"/><rect x="1393.52" y="419.65" width="13.42" height="13.39" fill="#eef5fc"/><rect x="1472.22" y="419.65" width="13.42" height="13.39" fill="#acd0e6"/><rect x="1485.33" y="419.65" width="13.42" height="13.39" fill="#cddff1"/><rect x="1537.80" y="419.65" width="13.42" height="13.39" fill="#acd0e6"/><rect x="1616.50" y="419.65" width="13.42" height="13.39" fill="#cddff1"/><rect x="1642.73" y="419.65" width="13.42" height="13.39" fill="#cddff1"/><rect x="1655.85" y="419.65" width="13.42" height="13.39" fill="#eef5fc"/><rect x="1668.97" y="419.65" width="13.42" height="13.39" fill="#cddff1"/><rect x="1695.20" y="419.65" width="13.42" height="13.39" fill="#cddff1"/><rect x="1708.32" y="419.65" width="13.42" height="13.39" fill="#cddff1"/><rect x="1721.43" y="419.65" width="13.42" height="13.39" fill="#e2eef8"/><rect x="1747.67" y="419.65" width="13.42" height="13.39" fill="#e2eef8"/><rect x="1800.13" y="419.65" width="13.42" height="13.39" fill="#eef5fc"/><rect x="1813.25" y="419.65" width="13.42" height="13.39" fill="#acd0e6"/><rect x="1826.37" y="419.65" width="13.42" height="13.39" fill="#cddff1"/><rect x="1905.07" y="419.65" width="13.42" height="13.39" fill="#eef5fc"/><rect x="1236.12" y="432.74" width="13.42" height="13.39" fill="#cddff1"/><rect x="1262.35" y="432.74" width="13.42" height="13.39" fill="#e2eef8"/><rect x="1275.47" y="432.74" width="13.42" height="13.39" fill="#e2eef8"/><rect x="1314.82" y="432.74" width="13.42" height="13.39" fill="#cddff1"/><rect x="1327.93" y="432.74" width="13.42" height="13.39" fill="#08458a"/><rect x="1354.17" y="432.74" width="13.42" height="13.39" fill="#eef5fc"/><rect x="1367.28" y="432.74" width="13.42" height="13.39" fill="#e2eef8"/><rect x="1419.75" y="432.74" width="13.42" height="13.39" fill="#e2eef8"/><rect x="1459.10" y="432.74" width="13.42" height="13.39" fill="#e2eef8"/><rect x="1472.22" y="432.74" width="13.42" height="13.39" fill="#e2eef8"/><rect x="1498.45" y="432.74" width="13.42" height="13.39" fill="#cddff1"/><rect x="1524.68" y="432.74" width="13.42" height="13.39" fill="#e2eef8"/><rect x="1537.80" y="432.74" width="13.42" height="13.39" fill="#cddff1"/><rect x="1564.03" y="432.74" width="13.42" height="13.39" fill="#7fb9da"/><rect x="1590.27" y="432.74" width="13.42" height="13.39" fill="#eef5fc"/><rect x="1603.38" y="432.74" width="13.42" height="13.39" fill="#acd0e6"/><rect x="1616.50" y="432.74" width="13.42" height="13.39" fill="#eef5fc"/><rect x="1642.73" y="432.74" width="13.42" height="13.39" fill="#eef5fc"/><rect x="1655.85" y="432.74" width="13.42" height="13.39" fill="#cddff1"/><rect x="1682.08" y="432.74" width="13.42" height="13.39" fill="#eef5fc"/><rect x="1721.43" y="432.74" width="13.42" height="13.39" fill="#cddff1"/><rect x="1734.55" y="432.74" width="13.42" height="13.39" fill="#cddff1"/><rect x="1760.78" y="432.74" width="13.42" height="13.39" fill="#cddff1"/><rect x="1773.90" y="432.74" width="13.42" height="13.39" fill="#cddff1"/><rect x="1800.13" y="432.74" width="13.42" height="13.39" fill="#cddff1"/><rect x="1865.72" y="432.74" width="13.42" height="13.39" fill="#cddff1"/><rect x="1891.95" y="432.74" width="13.42" height="13.39" fill="#cddff1"/><rect x="1236.12" y="445.83" width="13.42" height="13.39" fill="#cddff1"/><rect x="1341.05" y="445.83" width="13.42" height="13.39" fill="#2e7ebc"/><rect x="1367.28" y="445.83" width="13.42" height="13.39" fill="#acd0e6"/><rect x="1380.40" y="445.83" width="13.42" height="13.39" fill="#eef5fc"/><rect x="1393.52" y="445.83" width="13.42" height="13.39" fill="#eef5fc"/><rect x="1419.75" y="445.83" width="13.42" height="13.39" fill="#cddff1"/><rect x="1432.87" y="445.83" width="13.42" height="13.39" fill="#eef5fc"/><rect x="1485.33" y="445.83" width="13.42" height="13.39" fill="#e2eef8"/><rect x="1498.45" y="445.83" width="13.42" height="13.39" fill="#cddff1"/><rect x="1511.57" y="445.83" width="13.42" height="13.39" fill="#e2eef8"/><rect x="1524.68" y="445.83" width="13.42" height="13.39" fill="#cddff1"/><rect x="1550.92" y="445.83" width="13.42" height="13.39" fill="#cddff1"/><rect x="1564.03" y="445.83" width="13.42" height="13.39" fill="#eef5fc"/><rect x="1577.15" y="445.83" width="13.42" height="13.39" fill="#eef5fc"/><rect x="1629.62" y="445.83" width="13.42" height="13.39" fill="#e2eef8"/><rect x="1642.73" y="445.83" width="13.42" height="13.39" fill="#cddff1"/><rect x="1668.97" y="445.83" width="13.42" height="13.39" fill="#acd0e6"/><rect x="1695.20" y="445.83" width="13.42" height="13.39" fill="#eef5fc"/><rect x="1721.43" y="445.83" width="13.42" height="13.39" fill="#e2eef8"/><rect x="1734.55" y="445.83" width="13.42" height="13.39" fill="#cddff1"/><rect x="1773.90" y="445.83" width="13.42" height="13.39" fill="#eef5fc"/><rect x="1800.13" y="445.83" width="13.42" height="13.39" fill="#e2eef8"/><rect x="1813.25" y="445.83" width="13.42" height="13.39" fill="#cddff1"/><rect x="1839.48" y="445.83" width="13.42" height="13.39" fill="#eef5fc"/><rect x="1878.83" y="445.83" width="13.42" height="13.39" fill="#e2eef8"/><rect x="1891.95" y="445.83" width="13.42" height="13.39" fill="#eef5fc"/><rect x="1905.07" y="445.83" width="13.42" height="13.39" fill="#eef5fc"/><rect x="1918.18" y="445.83" width="13.42" height="13.39" fill="#cddff1"/><rect x="1223.00" y="458.93" width="13.42" height="13.39" fill="#e2eef8"/><rect x="1262.35" y="458.93" width="13.42" height="13.39" fill="#acd0e6"/><rect x="1288.58" y="458.93" width="13.42" height="13.39" fill="#cddff1"/><rect x="1314.82" y="458.93" width="13.42" height="13.39" fill="#cddff1"/><rect x="1327.93" y="458.93" width="13.42" height="13.39" fill="#e2eef8"/><rect x="1354.17" y="458.93" width="13.42" height="13.39" fill="#135fa7"/><rect x="1367.28" y="458.93" width="13.42" height="13.39" fill="#e2eef8"/><rect x="1380.40" y="458.93" width="13.42" height="13.39" fill="#eef5fc"/><rect x="1393.52" y="458.93" width="13.42" height="13.39" fill="#eef5fc"/><rect x="1459.10" y="458.93" width="13.42" height="13.39" fill="#acd0e6"/><rect x="1472.22" y="458.93" width="13.42" height="13.39" fill="#4f9bcb"/><rect x="1485.33" y="458.93" width="13.42" height="13.39" fill="#cddff1"/><rect x="1537.80" y="458.93" width="13.42" height="13.39" fill="#cddff1"/><rect x="1550.92" y="458.93" width="13.42" height="13.39" fill="#eef5fc"/><rect x="1577.15" y="458.93" width="13.42" height="13.39" fill="#acd0e6"/><rect x="1603.38" y="458.93" width="13.42" height="13.39" fill="#eef5fc"/><rect x="1616.50" y="458.93" width="13.42" height="13.39" fill="#cddff1"/><rect x="1642.73" y="458.93" width="13.42" height="13.39" fill="#eef5fc"/><rect x="1655.85" y="458.93" width="13.42" height="13.39" fill="#e2eef8"/><rect x="1668.97" y="458.93" width="13.42" height="13.39" fill="#e2eef8"/><rect x="1708.32" y="458.93" width="13.42" height="13.39" fill="#eef5fc"/><rect x="1721.43" y="458.93" width="13.42" height="13.39" fill="#eef5fc"/><rect x="1734.55" y="458.93" width="13.42" height="13.39" fill="#e2eef8"/><rect x="1800.13" y="458.93" width="13.42" height="13.39" fill="#7fb9da"/><rect x="1826.37" y="458.93" width="13.42" height="13.39" fill="#eef5fc"/><rect x="1839.48" y="458.93" width="13.42" height="13.39" fill="#acd0e6"/><rect x="1852.60" y="458.93" width="13.42" height="13.39" fill="#cddff1"/><rect x="1878.83" y="458.93" width="13.42" height="13.39" fill="#eef5fc"/><rect x="1905.07" y="458.93" width="13.42" height="13.39" fill="#cddff1"/><rect x="1236.12" y="472.02" width="13.42" height="13.39" fill="#eef5fc"/><rect x="1249.23" y="472.02" width="13.42" height="13.39" fill="#cddff1"/><rect x="1275.47" y="472.02" width="13.42" height="13.39" fill="#e2eef8"/><rect x="1314.82" y="472.02" width="13.42" height="13.39" fill="#cddff1"/><rect x="1367.28" y="472.02" width="13.42" height="13.39" fill="#2e7ebc"/><rect x="1419.75" y="472.02" width="13.42" height="13.39" fill="#eef5fc"/><rect x="1445.98" y="472.02" width="13.42" height="13.39" fill="#acd0e6"/><rect x="1472.22" y="472.02" width="13.42" height="13.39" fill="#e2eef8"/><rect x="1485.33" y="472.02" width="13.42" height="13.39" fill="#acd0e6"/><rect x="1511.57" y="472.02" width="13.42" height="13.39" fill="#acd0e6"/><rect x="1537.80" y="472.02" width="13.42" height="13.39" fill="#eef5fc"/><rect x="1564.03" y="472.02" width="13.42" height="13.39" fill="#e2eef8"/><rect x="1603.38" y="472.02" width="13.42" height="13.39" fill="#cddff1"/><rect x="1668.97" y="472.02" width="13.42" height="13.39" fill="#acd0e6"/><rect x="1721.43" y="472.02" width="13.42" height="13.39" fill="#cddff1"/><rect x="1747.67" y="472.02" width="13.42" height="13.39" fill="#acd0e6"/><rect x="1760.78" y="472.02" width="13.42" height="13.39" fill="#eef5fc"/><rect x="1800.13" y="472.02" width="13.42" height="13.39" fill="#e2eef8"/><rect x="1813.25" y="472.02" width="13.42" height="13.39" fill="#acd0e6"/><rect x="1839.48" y="472.02" width="13.42" height="13.39" fill="#cddff1"/><rect x="1852.60" y="472.02" width="13.42" height="13.39" fill="#cddff1"/><rect x="1249.23" y="485.11" width="13.42" height="13.39" fill="#eef5fc"/><rect x="1262.35" y="485.11" width="13.42" height="13.39" fill="#cddff1"/><rect x="1275.47" y="485.11" width="13.42" height="13.39" fill="#e2eef8"/><rect x="1327.93" y="485.11" width="13.42" height="13.39" fill="#e2eef8"/><rect x="1341.05" y="485.11" width="13.42" height="13.39" fill="#e2eef8"/><rect x="1354.17" y="485.11" width="13.42" height="13.39" fill="#e2eef8"/><rect x="1367.28" y="485.11" width="13.42" height="13.39" fill="#e2eef8"/><rect x="1380.40" y="485.11" width="13.42" height="13.39" fill="#08306b"/><rect x="1445.98" y="485.11" width="13.42" height="13.39" fill="#e2eef8"/><rect x="1459.10" y="485.11" width="13.42" height="13.39" fill="#cddff1"/><rect x="1472.22" y="485.11" width="13.42" height="13.39" fill="#e2eef8"/><rect x="1485.33" y="485.11" width="13.42" height="13.39" fill="#e2eef8"/><rect x="1577.15" y="485.11" width="13.42" height="13.39" fill="#e2eef8"/><rect x="1616.50" y="485.11" width="13.42" height="13.39" fill="#eef5fc"/><rect x="1629.62" y="485.11" width="13.42" height="13.39" fill="#cddff1"/><rect x="1708.32" y="485.11" width="13.42" height="13.39" fill="#e2eef8"/><rect x="1734.55" y="485.11" width="13.42" height="13.39" fill="#cddff1"/><rect x="1747.67" y="485.11" width="13.42" height="13.39" fill="#cddff1"/><rect x="1773.90" y="485.11" width="13.42" height="13.39" fill="#acd0e6"/><rect x="1800.13" y="485.11" width="13.42" height="13.39" fill="#e2eef8"/><rect x="1865.72" y="485.11" width="13.42" height="13.39" fill="#cddff1"/><rect x="1905.07" y="485.11" width="13.42" height="13.39" fill="#cddff1"/><rect x="1236.12" y="498.20" width="13.42" height="13.39" fill="#e2eef8"/><rect x="1249.23" y="498.20" width="13.42" height="13.39" fill="#e2eef8"/><rect x="1275.47" y="498.20" width="13.42" height="13.39" fill="#acd0e6"/><rect x="1288.58" y="498.20" width="13.42" height="13.39" fill="#eef5fc"/><rect x="1301.70" y="498.20" width="13.42" height="13.39" fill="#cddff1"/><rect x="1314.82" y="498.20" width="13.42" height="13.39" fill="#7fb9da"/><rect x="1327.93" y="498.20" width="13.42" height="13.39" fill="#eef5fc"/><rect x="1354.17" y="498.20" width="13.42" height="13.39" fill="#eef5fc"/><rect x="1367.28" y="498.20" width="13.42" height="13.39" fill="#e2eef8"/><rect x="1393.52" y="498.20" width="13.42" height="13.39" fill="#135fa7"/><rect x="1432.87" y="498.20" width="13.42" height="13.39" fill="#acd0e6"/><rect x="1472.22" y="498.20" width="13.42" height="13.39" fill="#acd0e6"/><rect x="1524.68" y="498.20" width="13.42" height="13.39" fill="#eef5fc"/><rect x="1550.92" y="498.20" width="13.42" height="13.39" fill="#acd0e6"/><rect x="1590.27" y="498.20" width="13.42" height="13.39" fill="#acd0e6"/><rect x="1603.38" y="498.20" width="13.42" height="13.39" fill="#acd0e6"/><rect x="1616.50" y="498.20" width="13.42" height="13.39" fill="#cddff1"/><rect x="1668.97" y="498.20" width="13.42" height="13.39" fill="#cddff1"/><rect x="1695.20" y="498.20" width="13.42" height="13.39" fill="#e2eef8"/><rect x="1721.43" y="498.20" width="13.42" height="13.39" fill="#eef5fc"/><rect x="1734.55" y="498.20" width="13.42" height="13.39" fill="#eef5fc"/><rect x="1760.78" y="498.20" width="13.42" height="13.39" fill="#acd0e6"/><rect x="1826.37" y="498.20" width="13.42" height="13.39" fill="#e2eef8"/><rect x="1839.48" y="498.20" width="13.42" height="13.39" fill="#cddff1"/><rect x="1865.72" y="498.20" width="13.42" height="13.39" fill="#eef5fc"/><rect x="1905.07" y="498.20" width="13.42" height="13.39" fill="#e2eef8"/><rect x="1918.18" y="498.20" width="13.42" height="13.39" fill="#cddff1"/><rect x="1236.12" y="511.30" width="13.42" height="13.39" fill="#eef5fc"/><rect x="1262.35" y="511.30" width="13.42" height="13.39" fill="#e2eef8"/><rect x="1288.58" y="511.30" width="13.42" height="13.39" fill="#cddff1"/><rect x="1327.93" y="511.30" width="13.42" height="13.39" fill="#eef5fc"/><rect x="1341.05" y="511.30" width="13.42" height="13.39" fill="#e2eef8"/><rect x="1406.63" y="511.30" width="13.42" height="13.39" fill="#4f9bcb"/><rect x="1419.75" y="511.30" width="13.42" height="13.39" fill="#eef5fc"/><rect x="1432.87" y="511.30" width="13.42" height="13.39" fill="#eef5fc"/><rect x="1472.22" y="511.30" width="13.42" height="13.39" fill="#cddff1"/><rect x="1485.33" y="511.30" width="13.42" height="13.39" fill="#cddff1"/><rect x="1511.57" y="511.30" width="13.42" height="13.39" fill="#eef5fc"/><rect x="1524.68" y="511.30" width="13.42" height="13.39" fill="#eef5fc"/><rect x="1550.92" y="511.30" width="13.42" height="13.39" fill="#e2eef8"/><rect x="1564.03" y="511.30" width="13.42" height="13.39" fill="#cddff1"/><rect x="1603.38" y="511.30" width="13.42" height="13.39" fill="#cddff1"/><rect x="1668.97" y="511.30" width="13.42" height="13.39" fill="#acd0e6"/><rect x="1734.55" y="511.30" width="13.42" height="13.39" fill="#e2eef8"/><rect x="1747.67" y="511.30" width="13.42" height="13.39" fill="#e2eef8"/><rect x="1760.78" y="511.30" width="13.42" height="13.39" fill="#cddff1"/><rect x="1813.25" y="511.30" width="13.42" height="13.39" fill="#4f9bcb"/><rect x="1826.37" y="511.30" width="13.42" height="13.39" fill="#eef5fc"/><rect x="1852.60" y="511.30" width="13.42" height="13.39" fill="#eef5fc"/><rect x="1865.72" y="511.30" width="13.42" height="13.39" fill="#e2eef8"/><rect x="1891.95" y="511.30" width="13.42" height="13.39" fill="#eef5fc"/><rect x="1223.00" y="524.39" width="13.42" height="13.39" fill="#7fb9da"/><rect x="1262.35" y="524.39" width="13.42" height="13.39" fill="#e2eef8"/><rect x="1288.58" y="524.39" width="13.42" height="13.39" fill="#e2eef8"/><rect x="1301.70" y="524.39" width="13.42" height="13.39" fill="#e2eef8"/><rect x="1314.82" y="524.39" width="13.42" height="13.39" fill="#e2eef8"/><rect x="1419.75" y="524.39" width="13.42" height="13.39" fill="#4f9bcb"/><rect x="1472.22" y="524.39" width="13.42" height="13.39" fill="#e2eef8"/><rect x="1485.33" y="524.39" width="13.42" height="13.39" fill="#cddff1"/><rect x="1498.45" y="524.39" width="13.42" height="13.39" fill="#cddff1"/><rect x="1524.68" y="524.39" width="13.42" height="13.39" fill="#cddff1"/><rect x="1537.80" y="524.39" width="13.42" height="13.39" fill="#cddff1"/><rect x="1590.27" y="524.39" width="13.42" height="13.39" fill="#eef5fc"/><rect x="1603.38" y="524.39" width="13.42" height="13.39" fill="#cddff1"/><rect x="1616.50" y="524.39" width="13.42" height="13.39" fill="#cddff1"/><rect x="1629.62" y="524.39" width="13.42" height="13.39" fill="#cddff1"/><rect x="1668.97" y="524.39" width="13.42" height="13.39" fill="#e2eef8"/><rect x="1695.20" y="524.39" width="13.42" height="13.39" fill="#e2eef8"/><rect x="1708.32" y="524.39" width="13.42" height="13.39" fill="#acd0e6"/><rect x="1734.55" y="524.39" width="13.42" height="13.39" fill="#eef5fc"/><rect x="1826.37" y="524.39" width="13.42" height="13.39" fill="#acd0e6"/><rect x="1865.72" y="524.39" width="13.42" height="13.39" fill="#eef5fc"/><rect x="1878.83" y="524.39" width="13.42" height="13.39" fill="#e2eef8"/><rect x="1262.35" y="537.48" width="13.42" height="13.39" fill="#eef5fc"/><rect x="1288.58" y="537.48" width="13.42" height="13.39" fill="#cddff1"/><rect x="1301.70" y="537.48" width="13.42" height="13.39" fill="#eef5fc"/><rect x="1314.82" y="537.48" width="13.42" height="13.39" fill="#eef5fc"/><rect x="1327.93" y="537.48" width="13.42" height="13.39" fill="#e2eef8"/><rect x="1341.05" y="537.48" width="13.42" height="13.39" fill="#cddff1"/><rect x="1367.28" y="537.48" width="13.42" height="13.39" fill="#e2eef8"/><rect x="1380.40" y="537.48" width="13.42" height="13.39" fill="#e2eef8"/><rect x="1393.52" y="537.48" width="13.42" height="13.39" fill="#e2eef8"/><rect x="1406.63" y="537.48" width="13.42" height="13.39" fill="#eef5fc"/><rect x="1419.75" y="537.48" width="13.42" height="13.39" fill="#e2eef8"/><rect x="1432.87" y="537.48" width="13.42" height="13.39" fill="#4f9bcb"/><rect x="1459.10" y="537.48" width="13.42" height="13.39" fill="#eef5fc"/><rect x="1472.22" y="537.48" width="13.42" height="13.39" fill="#eef5fc"/><rect x="1524.68" y="537.48" width="13.42" height="13.39" fill="#eef5fc"/><rect x="1550.92" y="537.48" width="13.42" height="13.39" fill="#cddff1"/><rect x="1577.15" y="537.48" width="13.42" height="13.39" fill="#eef5fc"/><rect x="1642.73" y="537.48" width="13.42" height="13.39" fill="#acd0e6"/><rect x="1682.08" y="537.48" width="13.42" height="13.39" fill="#eef5fc"/><rect x="1695.20" y="537.48" width="13.42" height="13.39" fill="#eef5fc"/><rect x="1708.32" y="537.48" width="13.42" height="13.39" fill="#acd0e6"/><rect x="1721.43" y="537.48" width="13.42" height="13.39" fill="#7fb9da"/><rect x="1787.02" y="537.48" width="13.42" height="13.39" fill="#acd0e6"/><rect x="1839.48" y="537.48" width="13.42" height="13.39" fill="#eef5fc"/><rect x="1891.95" y="537.48" width="13.42" height="13.39" fill="#7fb9da"/><rect x="1918.18" y="537.48" width="13.42" height="13.39" fill="#eef5fc"/><rect x="1236.12" y="550.57" width="13.42" height="13.39" fill="#7fb9da"/><rect x="1288.58" y="550.57" width="13.42" height="13.39" fill="#e2eef8"/><rect x="1314.82" y="550.57" width="13.42" height="13.39" fill="#e2eef8"/><rect x="1341.05" y="550.57" width="13.42" height="13.39" fill="#eef5fc"/><rect x="1367.28" y="550.57" width="13.42" height="13.39" fill="#acd0e6"/><rect x="1380.40" y="550.57" width="13.42" height="13.39" fill="#2e7ebc"/><rect x="1445.98" y="550.57" width="13.42" height="13.39" fill="#4f9bcb"/><rect x="1472.22" y="550.57" width="13.42" height="13.39" fill="#e2eef8"/><rect x="1524.68" y="550.57" width="13.42" height="13.39" fill="#acd0e6"/><rect x="1537.80" y="550.57" width="13.42" height="13.39" fill="#e2eef8"/><rect x="1603.38" y="550.57" width="13.42" height="13.39" fill="#cddff1"/><rect x="1629.62" y="550.57" width="13.42" height="13.39" fill="#eef5fc"/><rect x="1642.73" y="550.57" width="13.42" height="13.39" fill="#7fb9da"/><rect x="1695.20" y="550.57" width="13.42" height="13.39" fill="#eef5fc"/><rect x="1708.32" y="550.57" width="13.42" height="13.39" fill="#cddff1"/><rect x="1721.43" y="550.57" width="13.42" height="13.39" fill="#e2eef8"/><rect x="1747.67" y="550.57" width="13.42" height="13.39" fill="#e2eef8"/><rect x="1773.90" y="550.57" width="13.42" height="13.39" fill="#cddff1"/><rect x="1800.13" y="550.57" width="13.42" height="13.39" fill="#eef5fc"/><rect x="1839.48" y="550.57" width="13.42" height="13.39" fill="#acd0e6"/><rect x="1878.83" y="550.57" width="13.42" height="13.39" fill="#4f9bcb"/><rect x="1891.95" y="550.57" width="13.42" height="13.39" fill="#e2eef8"/><rect x="1905.07" y="550.57" width="13.42" height="13.39" fill="#cddff1"/><rect x="1236.12" y="563.67" width="13.42" height="13.39" fill="#cddff1"/><rect x="1275.47" y="563.67" width="13.42" height="13.39" fill="#e2eef8"/><rect x="1288.58" y="563.67" width="13.42" height="13.39" fill="#e2eef8"/><rect x="1301.70" y="563.67" width="13.42" height="13.39" fill="#cddff1"/><rect x="1393.52" y="563.67" width="13.42" height="13.39" fill="#e2eef8"/><rect x="1406.63" y="563.67" width="13.42" height="13.39" fill="#7fb9da"/><rect x="1432.87" y="563.67" width="13.42" height="13.39" fill="#e2eef8"/><rect x="1459.10" y="563.67" width="13.42" height="13.39" fill="#135fa7"/><rect x="1511.57" y="563.67" width="13.42" height="13.39" fill="#eef5fc"/><rect x="1524.68" y="563.67" width="13.42" height="13.39" fill="#eef5fc"/><rect x="1537.80" y="563.67" width="13.42" height="13.39" fill="#e2eef8"/><rect x="1550.92" y="563.67" width="13.42" height="13.39" fill="#cddff1"/><rect x="1590.27" y="563.67" width="13.42" height="13.39" fill="#eef5fc"/><rect x="1603.38" y="563.67" width="13.42" height="13.39" fill="#eef5fc"/><rect x="1629.62" y="563.67" width="13.42" height="13.39" fill="#cddff1"/><rect x="1642.73" y="563.67" width="13.42" height="13.39" fill="#acd0e6"/><rect x="1708.32" y="563.67" width="13.42" height="13.39" fill="#acd0e6"/><rect x="1721.43" y="563.67" width="13.42" height="13.39" fill="#eef5fc"/><rect x="1760.78" y="563.67" width="13.42" height="13.39" fill="#cddff1"/><rect x="1773.90" y="563.67" width="13.42" height="13.39" fill="#eef5fc"/><rect x="1787.02" y="563.67" width="13.42" height="13.39" fill="#e2eef8"/><rect x="1852.60" y="563.67" width="13.42" height="13.39" fill="#acd0e6"/><rect x="1891.95" y="563.67" width="13.42" height="13.39" fill="#acd0e6"/><rect x="1918.18" y="563.67" width="13.42" height="13.39" fill="#cddff1"/><rect x="1262.35" y="576.76" width="13.42" height="13.39" fill="#cddff1"/><rect x="1380.40" y="576.76" width="13.42" height="13.39" fill="#eef5fc"/><rect x="1432.87" y="576.76" width="13.42" height="13.39" fill="#acd0e6"/><rect x="1445.98" y="576.76" width="13.42" height="13.39" fill="#e2eef8"/><rect x="1472.22" y="576.76" width="13.42" height="13.39" fill="#08458a"/><rect x="1511.57" y="576.76" width="13.42" height="13.39" fill="#eef5fc"/><rect x="1537.80" y="576.76" width="13.42" height="13.39" fill="#eef5fc"/><rect x="1590.27" y="576.76" width="13.42" height="13.39" fill="#e2eef8"/><rect x="1616.50" y="576.76" width="13.42" height="13.39" fill="#e2eef8"/><rect x="1629.62" y="576.76" width="13.42" height="13.39" fill="#cddff1"/><rect x="1668.97" y="576.76" width="13.42" height="13.39" fill="#e2eef8"/><rect x="1708.32" y="576.76" width="13.42" height="13.39" fill="#acd0e6"/><rect x="1721.43" y="576.76" width="13.42" height="13.39" fill="#cddff1"/><rect x="1734.55" y="576.76" width="13.42" height="13.39" fill="#e2eef8"/><rect x="1747.67" y="576.76" width="13.42" height="13.39" fill="#e2eef8"/><rect x="1760.78" y="576.76" width="13.42" height="13.39" fill="#e2eef8"/><rect x="1813.25" y="576.76" width="13.42" height="13.39" fill="#eef5fc"/><rect x="1852.60" y="576.76" width="13.42" height="13.39" fill="#e2eef8"/><rect x="1891.95" y="576.76" width="13.42" height="13.39" fill="#acd0e6"/><rect x="1905.07" y="576.76" width="13.42" height="13.39" fill="#acd0e6"/><rect x="1918.18" y="576.76" width="13.42" height="13.39" fill="#cddff1"/><rect x="1236.12" y="589.85" width="13.42" height="13.39" fill="#eef5fc"/><rect x="1249.23" y="589.85" width="13.42" height="13.39" fill="#eef5fc"/><rect x="1275.47" y="589.85" width="13.42" height="13.39" fill="#eef5fc"/><rect x="1288.58" y="589.85" width="13.42" height="13.39" fill="#e2eef8"/><rect x="1301.70" y="589.85" width="13.42" height="13.39" fill="#cddff1"/><rect x="1327.93" y="589.85" width="13.42" height="13.39" fill="#eef5fc"/><rect x="1354.17" y="589.85" width="13.42" height="13.39" fill="#e2eef8"/><rect x="1367.28" y="589.85" width="13.42" height="13.39" fill="#cddff1"/><rect x="1419.75" y="589.85" width="13.42" height="13.39" fill="#e2eef8"/><rect x="1432.87" y="589.85" width="13.42" height="13.39" fill="#2e7ebc"/><rect x="1445.98" y="589.85" width="13.42" height="13.39" fill="#cddff1"/><rect x="1472.22" y="589.85" width="13.42" height="13.39" fill="#cddff1"/><rect x="1485.33" y="589.85" width="13.42" height="13.39" fill="#08306b"/><rect x="1511.57" y="589.85" width="13.42" height="13.39" fill="#cddff1"/><rect x="1524.68" y="589.85" width="13.42" height="13.39" fill="#cddff1"/><rect x="1537.80" y="589.85" width="13.42" height="13.39" fill="#eef5fc"/><rect x="1550.92" y="589.85" width="13.42" height="13.39" fill="#4f9bcb"/><rect x="1577.15" y="589.85" width="13.42" height="13.39" fill="#acd0e6"/><rect x="1642.73" y="589.85" width="13.42" height="13.39" fill="#cddff1"/><rect x="1695.20" y="589.85" width="13.42" height="13.39" fill="#cddff1"/><rect x="1734.55" y="589.85" width="13.42" height="13.39" fill="#e2eef8"/><rect x="1760.78" y="589.85" width="13.42" height="13.39" fill="#e2eef8"/><rect x="1787.02" y="589.85" width="13.42" height="13.39" fill="#cddff1"/><rect x="1826.37" y="589.85" width="13.42" height="13.39" fill="#e2eef8"/><rect x="1839.48" y="589.85" width="13.42" height="13.39" fill="#acd0e6"/><rect x="1852.60" y="589.85" width="13.42" height="13.39" fill="#eef5fc"/><rect x="1905.07" y="589.85" width="13.42" height="13.39" fill="#cddff1"/><rect x="1918.18" y="589.85" width="13.42" height="13.39" fill="#acd0e6"/><rect x="1223.00" y="602.94" width="13.42" height="13.39" fill="#eef5fc"/><rect x="1262.35" y="602.94" width="13.42" height="13.39" fill="#eef5fc"/><rect x="1301.70" y="602.94" width="13.42" height="13.39" fill="#4f9bcb"/><rect x="1314.82" y="602.94" width="13.42" height="13.39" fill="#cddff1"/><rect x="1327.93" y="602.94" width="13.42" height="13.39" fill="#e2eef8"/><rect x="1341.05" y="602.94" width="13.42" height="13.39" fill="#eef5fc"/><rect x="1354.17" y="602.94" width="13.42" height="13.39" fill="#e2eef8"/><rect x="1367.28" y="602.94" width="13.42" height="13.39" fill="#eef5fc"/><rect x="1380.40" y="602.94" width="13.42" height="13.39" fill="#cddff1"/><rect x="1406.63" y="602.94" width="13.42" height="13.39" fill="#7fb9da"/><rect x="1419.75" y="602.94" width="13.42" height="13.39" fill="#e2eef8"/><rect x="1485.33" y="602.94" width="13.42" height="13.39" fill="#eef5fc"/><rect x="1498.45" y="602.94" width="13.42" height="13.39" fill="#4f9bcb"/><rect x="1564.03" y="602.94" width="13.42" height="13.39" fill="#cddff1"/><rect x="1590.27" y="602.94" width="13.42" height="13.39" fill="#eef5fc"/><rect x="1629.62" y="602.94" width="13.42" height="13.39" fill="#cddff1"/><rect x="1668.97" y="602.94" width="13.42" height="13.39" fill="#e2eef8"/><rect x="1708.32" y="602.94" width="13.42" height="13.39" fill="#cddff1"/><rect x="1800.13" y="602.94" width="13.42" height="13.39" fill="#eef5fc"/><rect x="1826.37" y="602.94" width="13.42" height="13.39" fill="#cddff1"/><rect x="1852.60" y="602.94" width="13.42" height="13.39" fill="#cddff1"/><rect x="1865.72" y="602.94" width="13.42" height="13.39" fill="#cddff1"/><rect x="1878.83" y="602.94" width="13.42" height="13.39" fill="#cddff1"/><rect x="1223.00" y="616.04" width="13.42" height="13.39" fill="#cddff1"/><rect x="1236.12" y="616.04" width="13.42" height="13.39" fill="#cddff1"/><rect x="1249.23" y="616.04" width="13.42" height="13.39" fill="#e2eef8"/><rect x="1288.58" y="616.04" width="13.42" height="13.39" fill="#e2eef8"/><rect x="1327.93" y="616.04" width="13.42" height="13.39" fill="#eef5fc"/><rect x="1341.05" y="616.04" width="13.42" height="13.39" fill="#cddff1"/><rect x="1354.17" y="616.04" width="13.42" height="13.39" fill="#e2eef8"/><rect x="1367.28" y="616.04" width="13.42" height="13.39" fill="#e2eef8"/><rect x="1393.52" y="616.04" width="13.42" height="13.39" fill="#e2eef8"/><rect x="1406.63" y="616.04" width="13.42" height="13.39" fill="#cddff1"/><rect x="1445.98" y="616.04" width="13.42" height="13.39" fill="#eef5fc"/><rect x="1511.57" y="616.04" width="13.42" height="13.39" fill="#135fa7"/><rect x="1524.68" y="616.04" width="13.42" height="13.39" fill="#cddff1"/><rect x="1564.03" y="616.04" width="13.42" height="13.39" fill="#eef5fc"/><rect x="1590.27" y="616.04" width="13.42" height="13.39" fill="#acd0e6"/><rect x="1629.62" y="616.04" width="13.42" height="13.39" fill="#e2eef8"/><rect x="1642.73" y="616.04" width="13.42" height="13.39" fill="#cddff1"/><rect x="1655.85" y="616.04" width="13.42" height="13.39" fill="#acd0e6"/><rect x="1682.08" y="616.04" width="13.42" height="13.39" fill="#eef5fc"/><rect x="1695.20" y="616.04" width="13.42" height="13.39" fill="#acd0e6"/><rect x="1734.55" y="616.04" width="13.42" height="13.39" fill="#eef5fc"/><rect x="1747.67" y="616.04" width="13.42" height="13.39" fill="#cddff1"/><rect x="1800.13" y="616.04" width="13.42" height="13.39" fill="#cddff1"/><rect x="1813.25" y="616.04" width="13.42" height="13.39" fill="#cddff1"/><rect x="1852.60" y="616.04" width="13.42" height="13.39" fill="#e2eef8"/><rect x="1905.07" y="616.04" width="13.42" height="13.39" fill="#cddff1"/><rect x="1918.18" y="616.04" width="13.42" height="13.39" fill="#cddff1"/><rect x="1249.23" y="629.13" width="13.42" height="13.39" fill="#e2eef8"/><rect x="1288.58" y="629.13" width="13.42" height="13.39" fill="#e2eef8"/><rect x="1327.93" y="629.13" width="13.42" height="13.39" fill="#cddff1"/><rect x="1341.05" y="629.13" width="13.42" height="13.39" fill="#cddff1"/><rect x="1380.40" y="629.13" width="13.42" height="13.39" fill="#e2eef8"/><rect x="1406.63" y="629.13" width="13.42" height="13.39" fill="#cddff1"/><rect x="1432.87" y="629.13" width="13.42" height="13.39" fill="#cddff1"/><rect x="1459.10" y="629.13" width="13.42" height="13.39" fill="#eef5fc"/><rect x="1511.57" y="629.13" width="13.42" height="13.39" fill="#cddff1"/><rect x="1524.68" y="629.13" width="13.42" height="13.39" fill="#4f9bcb"/><rect x="1550.92" y="629.13" width="13.42" height="13.39" fill="#eef5fc"/><rect x="1564.03" y="629.13" width="13.42" height="13.39" fill="#4f9bcb"/><rect x="1577.15" y="629.13" width="13.42" height="13.39" fill="#eef5fc"/><rect x="1629.62" y="629.13" width="13.42" height="13.39" fill="#e2eef8"/><rect x="1642.73" y="629.13" width="13.42" height="13.39" fill="#e2eef8"/><rect x="1668.97" y="629.13" width="13.42" height="13.39" fill="#cddff1"/><rect x="1747.67" y="629.13" width="13.42" height="13.39" fill="#e2eef8"/><rect x="1760.78" y="629.13" width="13.42" height="13.39" fill="#cddff1"/><rect x="1773.90" y="629.13" width="13.42" height="13.39" fill="#eef5fc"/><rect x="1813.25" y="629.13" width="13.42" height="13.39" fill="#cddff1"/><rect x="1826.37" y="629.13" width="13.42" height="13.39" fill="#eef5fc"/><rect x="1839.48" y="629.13" width="13.42" height="13.39" fill="#cddff1"/><rect x="1852.60" y="629.13" width="13.42" height="13.39" fill="#e2eef8"/><rect x="1865.72" y="629.13" width="13.42" height="13.39" fill="#eef5fc"/><rect x="1891.95" y="629.13" width="13.42" height="13.39" fill="#7fb9da"/><rect x="1223.00" y="642.22" width="13.42" height="13.39" fill="#eef5fc"/><rect x="1262.35" y="642.22" width="13.42" height="13.39" fill="#cddff1"/><rect x="1301.70" y="642.22" width="13.42" height="13.39" fill="#e2eef8"/><rect x="1314.82" y="642.22" width="13.42" height="13.39" fill="#acd0e6"/><rect x="1341.05" y="642.22" width="13.42" height="13.39" fill="#e2eef8"/><rect x="1367.28" y="642.22" width="13.42" height="13.39" fill="#4f9bcb"/><rect x="1406.63" y="642.22" width="13.42" height="13.39" fill="#e2eef8"/><rect x="1511.57" y="642.22" width="13.42" height="13.39" fill="#eef5fc"/><rect x="1537.80" y="642.22" width="13.42" height="13.39" fill="#135fa7"/><rect x="1577.15" y="642.22" width="13.42" height="13.39" fill="#eef5fc"/><rect x="1590.27" y="642.22" width="13.42" height="13.39" fill="#e2eef8"/><rect x="1629.62" y="642.22" width="13.42" height="13.39" fill="#eef5fc"/><rect x="1655.85" y="642.22" width="13.42" height="13.39" fill="#cddff1"/><rect x="1668.97" y="642.22" width="13.42" height="13.39" fill="#cddff1"/><rect x="1682.08" y="642.22" width="13.42" height="13.39" fill="#cddff1"/><rect x="1708.32" y="642.22" width="13.42" height="13.39" fill="#cddff1"/><rect x="1747.67" y="642.22" width="13.42" height="13.39" fill="#cddff1"/><rect x="1773.90" y="642.22" width="13.42" height="13.39" fill="#cddff1"/><rect x="1787.02" y="642.22" width="13.42" height="13.39" fill="#e2eef8"/><rect x="1826.37" y="642.22" width="13.42" height="13.39" fill="#e2eef8"/><rect x="1865.72" y="642.22" width="13.42" height="13.39" fill="#cddff1"/><rect x="1878.83" y="642.22" width="13.42" height="13.39" fill="#cddff1"/><rect x="1905.07" y="642.22" width="13.42" height="13.39" fill="#cddff1"/><rect x="1223.00" y="655.31" width="13.42" height="13.39" fill="#eef5fc"/><rect x="1288.58" y="655.31" width="13.42" height="13.39" fill="#e2eef8"/><rect x="1301.70" y="655.31" width="13.42" height="13.39" fill="#eef5fc"/><rect x="1314.82" y="655.31" width="13.42" height="13.39" fill="#cddff1"/><rect x="1354.17" y="655.31" width="13.42" height="13.39" fill="#eef5fc"/><rect x="1380.40" y="655.31" width="13.42" height="13.39" fill="#acd0e6"/><rect x="1393.52" y="655.31" width="13.42" height="13.39" fill="#cddff1"/><rect x="1432.87" y="655.31" width="13.42" height="13.39" fill="#eef5fc"/><rect x="1445.98" y="655.31" width="13.42" height="13.39" fill="#acd0e6"/><rect x="1550.92" y="655.31" width="13.42" height="13.39" fill="#4f9bcb"/><rect x="1564.03" y="655.31" width="13.42" height="13.39" fill="#eef5fc"/><rect x="1590.27" y="655.31" width="13.42" height="13.39" fill="#e2eef8"/><rect x="1629.62" y="655.31" width="13.42" height="13.39" fill="#cddff1"/><rect x="1642.73" y="655.31" width="13.42" height="13.39" fill="#acd0e6"/><rect x="1655.85" y="655.31" width="13.42" height="13.39" fill="#acd0e6"/><rect x="1695.20" y="655.31" width="13.42" height="13.39" fill="#acd0e6"/><rect x="1747.67" y="655.31" width="13.42" height="13.39" fill="#e2eef8"/><rect x="1773.90" y="655.31" width="13.42" height="13.39" fill="#e2eef8"/><rect x="1813.25" y="655.31" width="13.42" height="13.39" fill="#cddff1"/><rect x="1839.48" y="655.31" width="13.42" height="13.39" fill="#e2eef8"/><rect x="1878.83" y="655.31" width="13.42" height="13.39" fill="#e2eef8"/><rect x="1891.95" y="655.31" width="13.42" height="13.39" fill="#acd0e6"/><rect x="1905.07" y="655.31" width="13.42" height="13.39" fill="#cddff1"/><rect x="1236.12" y="668.41" width="13.42" height="13.39" fill="#cddff1"/><rect x="1288.58" y="668.41" width="13.42" height="13.39" fill="#eef5fc"/><rect x="1301.70" y="668.41" width="13.42" height="13.39" fill="#acd0e6"/><rect x="1327.93" y="668.41" width="13.42" height="13.39" fill="#cddff1"/><rect x="1354.17" y="668.41" width="13.42" height="13.39" fill="#cddff1"/><rect x="1367.28" y="668.41" width="13.42" height="13.39" fill="#cddff1"/><rect x="1380.40" y="668.41" width="13.42" height="13.39" fill="#7fb9da"/><rect x="1393.52" y="668.41" width="13.42" height="13.39" fill="#eef5fc"/><rect x="1419.75" y="668.41" width="13.42" height="13.39" fill="#cddff1"/><rect x="1432.87" y="668.41" width="13.42" height="13.39" fill="#e2eef8"/><rect x="1537.80" y="668.41" width="13.42" height="13.39" fill="#e2eef8"/><rect x="1550.92" y="668.41" width="13.42" height="13.39" fill="#4f9bcb"/><rect x="1564.03" y="668.41" width="13.42" height="13.39" fill="#2e7ebc"/><rect x="1577.15" y="668.41" width="13.42" height="13.39" fill="#acd0e6"/><rect x="1603.38" y="668.41" width="13.42" height="13.39" fill="#cddff1"/><rect x="1642.73" y="668.41" width="13.42" height="13.39" fill="#e2eef8"/><rect x="1655.85" y="668.41" width="13.42" height="13.39" fill="#e2eef8"/><rect x="1682.08" y="668.41" width="13.42" height="13.39" fill="#e2eef8"/><rect x="1708.32" y="668.41" width="13.42" height="13.39" fill="#e2eef8"/><rect x="1760.78" y="668.41" width="13.42" height="13.39" fill="#cddff1"/><rect x="1787.02" y="668.41" width="13.42" height="13.39" fill="#acd0e6"/><rect x="1800.13" y="668.41" width="13.42" height="13.39" fill="#e2eef8"/><rect x="1813.25" y="668.41" width="13.42" height="13.39" fill="#cddff1"/><rect x="1852.60" y="668.41" width="13.42" height="13.39" fill="#eef5fc"/><rect x="1878.83" y="668.41" width="13.42" height="13.39" fill="#acd0e6"/><rect x="1918.18" y="668.41" width="13.42" height="13.39" fill="#e2eef8"/><rect x="1236.12" y="681.50" width="13.42" height="13.39" fill="#eef5fc"/><rect x="1249.23" y="681.50" width="13.42" height="13.39" fill="#e2eef8"/><rect x="1262.35" y="681.50" width="13.42" height="13.39" fill="#cddff1"/><rect x="1301.70" y="681.50" width="13.42" height="13.39" fill="#eef5fc"/><rect x="1354.17" y="681.50" width="13.42" height="13.39" fill="#e2eef8"/><rect x="1406.63" y="681.50" width="13.42" height="13.39" fill="#acd0e6"/><rect x="1419.75" y="681.50" width="13.42" height="13.39" fill="#eef5fc"/><rect x="1432.87" y="681.50" width="13.42" height="13.39" fill="#cddff1"/><rect x="1459.10" y="681.50" width="13.42" height="13.39" fill="#e2eef8"/><rect x="1472.22" y="681.50" width="13.42" height="13.39" fill="#acd0e6"/><rect x="1485.33" y="681.50" width="13.42" height="13.39" fill="#e2eef8"/><rect x="1511.57" y="681.50" width="13.42" height="13.39" fill="#eef5fc"/><rect x="1524.68" y="681.50" width="13.42" height="13.39" fill="#acd0e6"/><rect x="1537.80" y="681.50" width="13.42" height="13.39" fill="#e2eef8"/><rect x="1550.92" y="681.50" width="13.42" height="13.39" fill="#cddff1"/><rect x="1564.03" y="681.50" width="13.42" height="13.39" fill="#eef5fc"/><rect x="1577.15" y="681.50" width="13.42" height="13.39" fill="#08458a"/><rect x="1603.38" y="681.50" width="13.42" height="13.39" fill="#cddff1"/><rect x="1616.50" y="681.50" width="13.42" height="13.39" fill="#e2eef8"/><rect x="1629.62" y="681.50" width="13.42" height="13.39" fill="#acd0e6"/><rect x="1642.73" y="681.50" width="13.42" height="13.39" fill="#e2eef8"/><rect x="1668.97" y="681.50" width="13.42" height="13.39" fill="#cddff1"/><rect x="1721.43" y="681.50" width="13.42" height="13.39" fill="#eef5fc"/><rect x="1734.55" y="681.50" width="13.42" height="13.39" fill="#cddff1"/><rect x="1865.72" y="681.50" width="13.42" height="13.39" fill="#eef5fc"/><rect x="1878.83" y="681.50" width="13.42" height="13.39" fill="#e2eef8"/><rect x="1891.95" y="681.50" width="13.42" height="13.39" fill="#e2eef8"/><rect x="1905.07" y="681.50" width="13.42" height="13.39" fill="#7fb9da"/><rect x="1918.18" y="681.50" width="13.42" height="13.39" fill="#e2eef8"/><rect x="1223.00" y="694.59" width="13.42" height="13.39" fill="#eef5fc"/><rect x="1236.12" y="694.59" width="13.42" height="13.39" fill="#cddff1"/><rect x="1262.35" y="694.59" width="13.42" height="13.39" fill="#cddff1"/><rect x="1288.58" y="694.59" width="13.42" height="13.39" fill="#cddff1"/><rect x="1327.93" y="694.59" width="13.42" height="13.39" fill="#eef5fc"/><rect x="1354.17" y="694.59" width="13.42" height="13.39" fill="#cddff1"/><rect x="1367.28" y="694.59" width="13.42" height="13.39" fill="#e2eef8"/><rect x="1380.40" y="694.59" width="13.42" height="13.39" fill="#cddff1"/><rect x="1406.63" y="694.59" width="13.42" height="13.39" fill="#e2eef8"/><rect x="1432.87" y="694.59" width="13.42" height="13.39" fill="#cddff1"/><rect x="1472.22" y="694.59" width="13.42" height="13.39" fill="#eef5fc"/><rect x="1498.45" y="694.59" width="13.42" height="13.39" fill="#e2eef8"/><rect x="1550.92" y="694.59" width="13.42" height="13.39" fill="#e2eef8"/><rect x="1564.03" y="694.59" width="13.42" height="13.39" fill="#cddff1"/><rect x="1590.27" y="694.59" width="13.42" height="13.39" fill="#4f9bcb"/><rect x="1629.62" y="694.59" width="13.42" height="13.39" fill="#cddff1"/><rect x="1668.97" y="694.59" width="13.42" height="13.39" fill="#e2eef8"/><rect x="1708.32" y="694.59" width="13.42" height="13.39" fill="#eef5fc"/><rect x="1721.43" y="694.59" width="13.42" height="13.39" fill="#eef5fc"/><rect x="1747.67" y="694.59" width="13.42" height="13.39" fill="#e2eef8"/><rect x="1760.78" y="694.59" width="13.42" height="13.39" fill="#e2eef8"/><rect x="1800.13" y="694.59" width="13.42" height="13.39" fill="#e2eef8"/><rect x="1826.37" y="694.59" width="13.42" height="13.39" fill="#e2eef8"/><rect x="1839.48" y="694.59" width="13.42" height="13.39" fill="#e2eef8"/><rect x="1891.95" y="694.59" width="13.42" height="13.39" fill="#e2eef8"/><rect x="1249.23" y="707.69" width="13.42" height="13.39" fill="#cddff1"/><rect x="1275.47" y="707.69" width="13.42" height="13.39" fill="#cddff1"/><rect x="1288.58" y="707.69" width="13.42" height="13.39" fill="#acd0e6"/><rect x="1354.17" y="707.69" width="13.42" height="13.39" fill="#acd0e6"/><rect x="1367.28" y="707.69" width="13.42" height="13.39" fill="#e2eef8"/><rect x="1406.63" y="707.69" width="13.42" height="13.39" fill="#eef5fc"/><rect x="1472.22" y="707.69" width="13.42" height="13.39" fill="#7fb9da"/><rect x="1485.33" y="707.69" width="13.42" height="13.39" fill="#e2eef8"/><rect x="1511.57" y="707.69" width="13.42" height="13.39" fill="#eef5fc"/><rect x="1564.03" y="707.69" width="13.42" height="13.39" fill="#cddff1"/><rect x="1577.15" y="707.69" width="13.42" height="13.39" fill="#eef5fc"/><rect x="1590.27" y="707.69" width="13.42" height="13.39" fill="#cddff1"/><rect x="1603.38" y="707.69" width="13.42" height="13.39" fill="#135fa7"/><rect x="1629.62" y="707.69" width="13.42" height="13.39" fill="#e2eef8"/><rect x="1708.32" y="707.69" width="13.42" height="13.39" fill="#e2eef8"/><rect x="1734.55" y="707.69" width="13.42" height="13.39" fill="#e2eef8"/><rect x="1747.67" y="707.69" width="13.42" height="13.39" fill="#e2eef8"/><rect x="1773.90" y="707.69" width="13.42" height="13.39" fill="#e2eef8"/><rect x="1787.02" y="707.69" width="13.42" height="13.39" fill="#e2eef8"/><rect x="1826.37" y="707.69" width="13.42" height="13.39" fill="#eef5fc"/><rect x="1852.60" y="707.69" width="13.42" height="13.39" fill="#cddff1"/><rect x="1865.72" y="707.69" width="13.42" height="13.39" fill="#eef5fc"/><rect x="1905.07" y="707.69" width="13.42" height="13.39" fill="#cddff1"/><rect x="1918.18" y="707.69" width="13.42" height="13.39" fill="#acd0e6"/><rect x="1223.00" y="720.78" width="13.42" height="13.39" fill="#e2eef8"/><rect x="1249.23" y="720.78" width="13.42" height="13.39" fill="#cddff1"/><rect x="1275.47" y="720.78" width="13.42" height="13.39" fill="#cddff1"/><rect x="1301.70" y="720.78" width="13.42" height="13.39" fill="#cddff1"/><rect x="1327.93" y="720.78" width="13.42" height="13.39" fill="#e2eef8"/><rect x="1354.17" y="720.78" width="13.42" height="13.39" fill="#cddff1"/><rect x="1367.28" y="720.78" width="13.42" height="13.39" fill="#cddff1"/><rect x="1380.40" y="720.78" width="13.42" height="13.39" fill="#e2eef8"/><rect x="1564.03" y="720.78" width="13.42" height="13.39" fill="#e2eef8"/><rect x="1603.38" y="720.78" width="13.42" height="13.39" fill="#eef5fc"/><rect x="1616.50" y="720.78" width="13.42" height="13.39" fill="#08458a"/><rect x="1629.62" y="720.78" width="13.42" height="13.39" fill="#cddff1"/><rect x="1773.90" y="720.78" width="13.42" height="13.39" fill="#eef5fc"/><rect x="1787.02" y="720.78" width="13.42" height="13.39" fill="#cddff1"/><rect x="1826.37" y="720.78" width="13.42" height="13.39" fill="#e2eef8"/><rect x="1839.48" y="720.78" width="13.42" height="13.39" fill="#eef5fc"/><rect x="1852.60" y="720.78" width="13.42" height="13.39" fill="#acd0e6"/><rect x="1905.07" y="720.78" width="13.42" height="13.39" fill="#eef5fc"/><rect x="1275.47" y="733.87" width="13.42" height="13.39" fill="#cddff1"/><rect x="1314.82" y="733.87" width="13.42" height="13.39" fill="#e2eef8"/><rect x="1327.93" y="733.87" width="13.42" height="13.39" fill="#cddff1"/><rect x="1341.05" y="733.87" width="13.42" height="13.39" fill="#e2eef8"/><rect x="1354.17" y="733.87" width="13.42" height="13.39" fill="#eef5fc"/><rect x="1419.75" y="733.87" width="13.42" height="13.39" fill="#cddff1"/><rect x="1432.87" y="733.87" width="13.42" height="13.39" fill="#eef5fc"/><rect x="1445.98" y="733.87" width="13.42" height="13.39" fill="#eef5fc"/><rect x="1459.10" y="733.87" width="13.42" height="13.39" fill="#cddff1"/><rect x="1472.22" y="733.87" width="13.42" height="13.39" fill="#e2eef8"/><rect x="1485.33" y="733.87" width="13.42" height="13.39" fill="#cddff1"/><rect x="1498.45" y="733.87" width="13.42" height="13.39" fill="#eef5fc"/><rect x="1511.57" y="733.87" width="13.42" height="13.39" fill="#cddff1"/><rect x="1524.68" y="733.87" width="13.42" height="13.39" fill="#acd0e6"/><rect x="1537.80" y="733.87" width="13.42" height="13.39" fill="#eef5fc"/><rect x="1550.92" y="733.87" width="13.42" height="13.39" fill="#acd0e6"/><rect x="1564.03" y="733.87" width="13.42" height="13.39" fill="#cddff1"/><rect x="1577.15" y="733.87" width="13.42" height="13.39" fill="#cddff1"/><rect x="1590.27" y="733.87" width="13.42" height="13.39" fill="#cddff1"/><rect x="1629.62" y="733.87" width="13.42" height="13.39" fill="#135fa7"/><rect x="1642.73" y="733.87" width="13.42" height="13.39" fill="#acd0e6"/><rect x="1708.32" y="733.87" width="13.42" height="13.39" fill="#cddff1"/><rect x="1721.43" y="733.87" width="13.42" height="13.39" fill="#eef5fc"/><rect x="1734.55" y="733.87" width="13.42" height="13.39" fill="#eef5fc"/><rect x="1747.67" y="733.87" width="13.42" height="13.39" fill="#eef5fc"/><rect x="1891.95" y="733.87" width="13.42" height="13.39" fill="#acd0e6"/><rect x="1905.07" y="733.87" width="13.42" height="13.39" fill="#acd0e6"/><rect x="1223.00" y="746.96" width="13.42" height="13.39" fill="#e2eef8"/><rect x="1275.47" y="746.96" width="13.42" height="13.39" fill="#cddff1"/><rect x="1288.58" y="746.96" width="13.42" height="13.39" fill="#7fb9da"/><rect x="1314.82" y="746.96" width="13.42" height="13.39" fill="#e2eef8"/><rect x="1327.93" y="746.96" width="13.42" height="13.39" fill="#acd0e6"/><rect x="1367.28" y="746.96" width="13.42" height="13.39" fill="#cddff1"/><rect x="1380.40" y="746.96" width="13.42" height="13.39" fill="#acd0e6"/><rect x="1406.63" y="746.96" width="13.42" height="13.39" fill="#eef5fc"/><rect x="1432.87" y="746.96" width="13.42" height="13.39" fill="#acd0e6"/><rect x="1511.57" y="746.96" width="13.42" height="13.39" fill="#e2eef8"/><rect x="1564.03" y="746.96" width="13.42" height="13.39" fill="#e2eef8"/><rect x="1577.15" y="746.96" width="13.42" height="13.39" fill="#acd0e6"/><rect x="1603.38" y="746.96" width="13.42" height="13.39" fill="#acd0e6"/><rect x="1629.62" y="746.96" width="13.42" height="13.39" fill="#e2eef8"/><rect x="1642.73" y="746.96" width="13.42" height="13.39" fill="#4f9bcb"/><rect x="1655.85" y="746.96" width="13.42" height="13.39" fill="#7fb9da"/><rect x="1668.97" y="746.96" width="13.42" height="13.39" fill="#7fb9da"/><rect x="1682.08" y="746.96" width="13.42" height="13.39" fill="#e2eef8"/><rect x="1695.20" y="746.96" width="13.42" height="13.39" fill="#eef5fc"/><rect x="1747.67" y="746.96" width="13.42" height="13.39" fill="#7fb9da"/><rect x="1760.78" y="746.96" width="13.42" height="13.39" fill="#e2eef8"/><rect x="1773.90" y="746.96" width="13.42" height="13.39" fill="#cddff1"/><rect x="1787.02" y="746.96" width="13.42" height="13.39" fill="#eef5fc"/><rect x="1839.48" y="746.96" width="13.42" height="13.39" fill="#acd0e6"/><rect x="1878.83" y="746.96" width="13.42" height="13.39" fill="#eef5fc"/><rect x="1905.07" y="746.96" width="13.42" height="13.39" fill="#acd0e6"/><rect x="1918.18" y="746.96" width="13.42" height="13.39" fill="#cddff1"/><rect x="1223.00" y="760.06" width="13.42" height="13.39" fill="#e2eef8"/><rect x="1236.12" y="760.06" width="13.42" height="13.39" fill="#eef5fc"/><rect x="1262.35" y="760.06" width="13.42" height="13.39" fill="#cddff1"/><rect x="1367.28" y="760.06" width="13.42" height="13.39" fill="#eef5fc"/><rect x="1498.45" y="760.06" width="13.42" height="13.39" fill="#e2eef8"/><rect x="1590.27" y="760.06" width="13.42" height="13.39" fill="#e2eef8"/><rect x="1603.38" y="760.06" width="13.42" height="13.39" fill="#acd0e6"/><rect x="1616.50" y="760.06" width="13.42" height="13.39" fill="#eef5fc"/><rect x="1655.85" y="760.06" width="13.42" height="13.39" fill="#4f9bcb"/><rect x="1721.43" y="760.06" width="13.42" height="13.39" fill="#e2eef8"/><rect x="1734.55" y="760.06" width="13.42" height="13.39" fill="#cddff1"/><rect x="1747.67" y="760.06" width="13.42" height="13.39" fill="#acd0e6"/><rect x="1787.02" y="760.06" width="13.42" height="13.39" fill="#acd0e6"/><rect x="1800.13" y="760.06" width="13.42" height="13.39" fill="#7fb9da"/><rect x="1852.60" y="760.06" width="13.42" height="13.39" fill="#eef5fc"/><rect x="1865.72" y="760.06" width="13.42" height="13.39" fill="#eef5fc"/><rect x="1905.07" y="760.06" width="13.42" height="13.39" fill="#eef5fc"/><rect x="1249.23" y="773.15" width="13.42" height="13.39" fill="#e2eef8"/><rect x="1275.47" y="773.15" width="13.42" height="13.39" fill="#e2eef8"/><rect x="1288.58" y="773.15" width="13.42" height="13.39" fill="#e2eef8"/><rect x="1341.05" y="773.15" width="13.42" height="13.39" fill="#e2eef8"/><rect x="1367.28" y="773.15" width="13.42" height="13.39" fill="#acd0e6"/><rect x="1419.75" y="773.15" width="13.42" height="13.39" fill="#cddff1"/><rect x="1445.98" y="773.15" width="13.42" height="13.39" fill="#e2eef8"/><rect x="1459.10" y="773.15" width="13.42" height="13.39" fill="#eef5fc"/><rect x="1498.45" y="773.15" width="13.42" height="13.39" fill="#e2eef8"/><rect x="1511.57" y="773.15" width="13.42" height="13.39" fill="#acd0e6"/><rect x="1550.92" y="773.15" width="13.42" height="13.39" fill="#eef5fc"/><rect x="1642.73" y="773.15" width="13.42" height="13.39" fill="#acd0e6"/><rect x="1668.97" y="773.15" width="13.42" height="13.39" fill="#4f9bcb"/><rect x="1760.78" y="773.15" width="13.42" height="13.39" fill="#eef5fc"/><rect x="1773.90" y="773.15" width="13.42" height="13.39" fill="#acd0e6"/><rect x="1787.02" y="773.15" width="13.42" height="13.39" fill="#cddff1"/><rect x="1813.25" y="773.15" width="13.42" height="13.39" fill="#cddff1"/><rect x="1826.37" y="773.15" width="13.42" height="13.39" fill="#cddff1"/><rect x="1852.60" y="773.15" width="13.42" height="13.39" fill="#cddff1"/><rect x="1236.12" y="786.24" width="13.42" height="13.39" fill="#e2eef8"/><rect x="1275.47" y="786.24" width="13.42" height="13.39" fill="#eef5fc"/><rect x="1327.93" y="786.24" width="13.42" height="13.39" fill="#e2eef8"/><rect x="1354.17" y="786.24" width="13.42" height="13.39" fill="#cddff1"/><rect x="1367.28" y="786.24" width="13.42" height="13.39" fill="#7fb9da"/><rect x="1406.63" y="786.24" width="13.42" height="13.39" fill="#cddff1"/><rect x="1419.75" y="786.24" width="13.42" height="13.39" fill="#cddff1"/><rect x="1432.87" y="786.24" width="13.42" height="13.39" fill="#cddff1"/><rect x="1511.57" y="786.24" width="13.42" height="13.39" fill="#cddff1"/><rect x="1537.80" y="786.24" width="13.42" height="13.39" fill="#e2eef8"/><rect x="1564.03" y="786.24" width="13.42" height="13.39" fill="#e2eef8"/><rect x="1616.50" y="786.24" width="13.42" height="13.39" fill="#acd0e6"/><rect x="1668.97" y="786.24" width="13.42" height="13.39" fill="#e2eef8"/><rect x="1682.08" y="786.24" width="13.42" height="13.39" fill="#08306b"/><rect x="1695.20" y="786.24" width="13.42" height="13.39" fill="#cddff1"/><rect x="1708.32" y="786.24" width="13.42" height="13.39" fill="#cddff1"/><rect x="1734.55" y="786.24" width="13.42" height="13.39" fill="#eef5fc"/><rect x="1760.78" y="786.24" width="13.42" height="13.39" fill="#eef5fc"/><rect x="1839.48" y="786.24" width="13.42" height="13.39" fill="#e2eef8"/><rect x="1865.72" y="786.24" width="13.42" height="13.39" fill="#cddff1"/><rect x="1236.12" y="799.33" width="13.42" height="13.39" fill="#e2eef8"/><rect x="1249.23" y="799.33" width="13.42" height="13.39" fill="#e2eef8"/><rect x="1275.47" y="799.33" width="13.42" height="13.39" fill="#e2eef8"/><rect x="1288.58" y="799.33" width="13.42" height="13.39" fill="#cddff1"/><rect x="1314.82" y="799.33" width="13.42" height="13.39" fill="#eef5fc"/><rect x="1367.28" y="799.33" width="13.42" height="13.39" fill="#acd0e6"/><rect x="1380.40" y="799.33" width="13.42" height="13.39" fill="#cddff1"/><rect x="1393.52" y="799.33" width="13.42" height="13.39" fill="#cddff1"/><rect x="1406.63" y="799.33" width="13.42" height="13.39" fill="#cddff1"/><rect x="1432.87" y="799.33" width="13.42" height="13.39" fill="#eef5fc"/><rect x="1445.98" y="799.33" width="13.42" height="13.39" fill="#cddff1"/><rect x="1459.10" y="799.33" width="13.42" height="13.39" fill="#eef5fc"/><rect x="1485.33" y="799.33" width="13.42" height="13.39" fill="#e2eef8"/><rect x="1498.45" y="799.33" width="13.42" height="13.39" fill="#e2eef8"/><rect x="1524.68" y="799.33" width="13.42" height="13.39" fill="#acd0e6"/><rect x="1616.50" y="799.33" width="13.42" height="13.39" fill="#acd0e6"/><rect x="1629.62" y="799.33" width="13.42" height="13.39" fill="#acd0e6"/><rect x="1695.20" y="799.33" width="13.42" height="13.39" fill="#2e7ebc"/><rect x="1734.55" y="799.33" width="13.42" height="13.39" fill="#eef5fc"/><rect x="1760.78" y="799.33" width="13.42" height="13.39" fill="#e2eef8"/><rect x="1800.13" y="799.33" width="13.42" height="13.39" fill="#e2eef8"/><rect x="1826.37" y="799.33" width="13.42" height="13.39" fill="#cddff1"/><rect x="1852.60" y="799.33" width="13.42" height="13.39" fill="#cddff1"/><rect x="1865.72" y="799.33" width="13.42" height="13.39" fill="#cddff1"/><rect x="1918.18" y="799.33" width="13.42" height="13.39" fill="#cddff1"/><rect x="1236.12" y="812.43" width="13.42" height="13.39" fill="#acd0e6"/><rect x="1249.23" y="812.43" width="13.42" height="13.39" fill="#cddff1"/><rect x="1275.47" y="812.43" width="13.42" height="13.39" fill="#cddff1"/><rect x="1288.58" y="812.43" width="13.42" height="13.39" fill="#eef5fc"/><rect x="1301.70" y="812.43" width="13.42" height="13.39" fill="#eef5fc"/><rect x="1327.93" y="812.43" width="13.42" height="13.39" fill="#e2eef8"/><rect x="1367.28" y="812.43" width="13.42" height="13.39" fill="#eef5fc"/><rect x="1393.52" y="812.43" width="13.42" height="13.39" fill="#e2eef8"/><rect x="1406.63" y="812.43" width="13.42" height="13.39" fill="#e2eef8"/><rect x="1445.98" y="812.43" width="13.42" height="13.39" fill="#cddff1"/><rect x="1459.10" y="812.43" width="13.42" height="13.39" fill="#e2eef8"/><rect x="1472.22" y="812.43" width="13.42" height="13.39" fill="#7fb9da"/><rect x="1511.57" y="812.43" width="13.42" height="13.39" fill="#7fb9da"/><rect x="1550.92" y="812.43" width="13.42" height="13.39" fill="#cddff1"/><rect x="1577.15" y="812.43" width="13.42" height="13.39" fill="#cddff1"/><rect x="1603.38" y="812.43" width="13.42" height="13.39" fill="#cddff1"/><rect x="1616.50" y="812.43" width="13.42" height="13.39" fill="#acd0e6"/><rect x="1642.73" y="812.43" width="13.42" height="13.39" fill="#cddff1"/><rect x="1668.97" y="812.43" width="13.42" height="13.39" fill="#acd0e6"/><rect x="1682.08" y="812.43" width="13.42" height="13.39" fill="#cddff1"/><rect x="1708.32" y="812.43" width="13.42" height="13.39" fill="#08458a"/><rect x="1760.78" y="812.43" width="13.42" height="13.39" fill="#acd0e6"/><rect x="1773.90" y="812.43" width="13.42" height="13.39" fill="#e2eef8"/><rect x="1800.13" y="812.43" width="13.42" height="13.39" fill="#acd0e6"/><rect x="1826.37" y="812.43" width="13.42" height="13.39" fill="#eef5fc"/><rect x="1839.48" y="812.43" width="13.42" height="13.39" fill="#cddff1"/><rect x="1852.60" y="812.43" width="13.42" height="13.39" fill="#eef5fc"/><rect x="1891.95" y="812.43" width="13.42" height="13.39" fill="#e2eef8"/><rect x="1918.18" y="812.43" width="13.42" height="13.39" fill="#7fb9da"/><rect x="1223.00" y="825.52" width="13.42" height="13.39" fill="#7fb9da"/><rect x="1236.12" y="825.52" width="13.42" height="13.39" fill="#acd0e6"/><rect x="1249.23" y="825.52" width="13.42" height="13.39" fill="#cddff1"/><rect x="1275.47" y="825.52" width="13.42" height="13.39" fill="#e2eef8"/><rect x="1301.70" y="825.52" width="13.42" height="13.39" fill="#cddff1"/><rect x="1314.82" y="825.52" width="13.42" height="13.39" fill="#cddff1"/><rect x="1327.93" y="825.52" width="13.42" height="13.39" fill="#eef5fc"/><rect x="1341.05" y="825.52" width="13.42" height="13.39" fill="#eef5fc"/><rect x="1354.17" y="825.52" width="13.42" height="13.39" fill="#eef5fc"/><rect x="1393.52" y="825.52" width="13.42" height="13.39" fill="#cddff1"/><rect x="1459.10" y="825.52" width="13.42" height="13.39" fill="#e2eef8"/><rect x="1472.22" y="825.52" width="13.42" height="13.39" fill="#e2eef8"/><rect x="1498.45" y="825.52" width="13.42" height="13.39" fill="#cddff1"/><rect x="1537.80" y="825.52" width="13.42" height="13.39" fill="#eef5fc"/><rect x="1590.27" y="825.52" width="13.42" height="13.39" fill="#acd0e6"/><rect x="1603.38" y="825.52" width="13.42" height="13.39" fill="#e2eef8"/><rect x="1616.50" y="825.52" width="13.42" height="13.39" fill="#e2eef8"/><rect x="1721.43" y="825.52" width="13.42" height="13.39" fill="#2e7ebc"/><rect x="1734.55" y="825.52" width="13.42" height="13.39" fill="#eef5fc"/><rect x="1760.78" y="825.52" width="13.42" height="13.39" fill="#e2eef8"/><rect x="1800.13" y="825.52" width="13.42" height="13.39" fill="#eef5fc"/><rect x="1813.25" y="825.52" width="13.42" height="13.39" fill="#cddff1"/><rect x="1839.48" y="825.52" width="13.42" height="13.39" fill="#cddff1"/><rect x="1865.72" y="825.52" width="13.42" height="13.39" fill="#e2eef8"/><rect x="1891.95" y="825.52" width="13.42" height="13.39" fill="#e2eef8"/><rect x="1905.07" y="825.52" width="13.42" height="13.39" fill="#eef5fc"/><rect x="1918.18" y="825.52" width="13.42" height="13.39" fill="#cddff1"/><rect x="1236.12" y="838.61" width="13.42" height="13.39" fill="#e2eef8"/><rect x="1249.23" y="838.61" width="13.42" height="13.39" fill="#e2eef8"/><rect x="1301.70" y="838.61" width="13.42" height="13.39" fill="#cddff1"/><rect x="1314.82" y="838.61" width="13.42" height="13.39" fill="#e2eef8"/><rect x="1341.05" y="838.61" width="13.42" height="13.39" fill="#eef5fc"/><rect x="1367.28" y="838.61" width="13.42" height="13.39" fill="#acd0e6"/><rect x="1380.40" y="838.61" width="13.42" height="13.39" fill="#eef5fc"/><rect x="1406.63" y="838.61" width="13.42" height="13.39" fill="#eef5fc"/><rect x="1459.10" y="838.61" width="13.42" height="13.39" fill="#eef5fc"/><rect x="1472.22" y="838.61" width="13.42" height="13.39" fill="#eef5fc"/><rect x="1485.33" y="838.61" width="13.42" height="13.39" fill="#e2eef8"/><rect x="1498.45" y="838.61" width="13.42" height="13.39" fill="#cddff1"/><rect x="1511.57" y="838.61" width="13.42" height="13.39" fill="#cddff1"/><rect x="1550.92" y="838.61" width="13.42" height="13.39" fill="#cddff1"/><rect x="1564.03" y="838.61" width="13.42" height="13.39" fill="#e2eef8"/><rect x="1577.15" y="838.61" width="13.42" height="13.39" fill="#e2eef8"/><rect x="1603.38" y="838.61" width="13.42" height="13.39" fill="#e2eef8"/><rect x="1616.50" y="838.61" width="13.42" height="13.39" fill="#7fb9da"/><rect x="1629.62" y="838.61" width="13.42" height="13.39" fill="#cddff1"/><rect x="1695.20" y="838.61" width="13.42" height="13.39" fill="#4f9bcb"/><rect x="1734.55" y="838.61" width="13.42" height="13.39" fill="#2e7ebc"/><rect x="1747.67" y="838.61" width="13.42" height="13.39" fill="#eef5fc"/><rect x="1760.78" y="838.61" width="13.42" height="13.39" fill="#cddff1"/><rect x="1800.13" y="838.61" width="13.42" height="13.39" fill="#cddff1"/><rect x="1826.37" y="838.61" width="13.42" height="13.39" fill="#e2eef8"/><rect x="1852.60" y="838.61" width="13.42" height="13.39" fill="#e2eef8"/><rect x="1865.72" y="838.61" width="13.42" height="13.39" fill="#e2eef8"/><rect x="1878.83" y="838.61" width="13.42" height="13.39" fill="#eef5fc"/><rect x="1891.95" y="838.61" width="13.42" height="13.39" fill="#cddff1"/><rect x="1223.00" y="851.70" width="13.42" height="13.39" fill="#7fb9da"/><rect x="1236.12" y="851.70" width="13.42" height="13.39" fill="#eef5fc"/><rect x="1249.23" y="851.70" width="13.42" height="13.39" fill="#e2eef8"/><rect x="1262.35" y="851.70" width="13.42" height="13.39" fill="#cddff1"/><rect x="1288.58" y="851.70" width="13.42" height="13.39" fill="#e2eef8"/><rect x="1301.70" y="851.70" width="13.42" height="13.39" fill="#e2eef8"/><rect x="1327.93" y="851.70" width="13.42" height="13.39" fill="#e2eef8"/><rect x="1367.28" y="851.70" width="13.42" height="13.39" fill="#cddff1"/><rect x="1393.52" y="851.70" width="13.42" height="13.39" fill="#acd0e6"/><rect x="1445.98" y="851.70" width="13.42" height="13.39" fill="#cddff1"/><rect x="1472.22" y="851.70" width="13.42" height="13.39" fill="#eef5fc"/><rect x="1485.33" y="851.70" width="13.42" height="13.39" fill="#eef5fc"/><rect x="1511.57" y="851.70" width="13.42" height="13.39" fill="#cddff1"/><rect x="1524.68" y="851.70" width="13.42" height="13.39" fill="#7fb9da"/><rect x="1537.80" y="851.70" width="13.42" height="13.39" fill="#e2eef8"/><rect x="1550.92" y="851.70" width="13.42" height="13.39" fill="#eef5fc"/><rect x="1590.27" y="851.70" width="13.42" height="13.39" fill="#cddff1"/><rect x="1603.38" y="851.70" width="13.42" height="13.39" fill="#eef5fc"/><rect x="1616.50" y="851.70" width="13.42" height="13.39" fill="#e2eef8"/><rect x="1642.73" y="851.70" width="13.42" height="13.39" fill="#e2eef8"/><rect x="1655.85" y="851.70" width="13.42" height="13.39" fill="#e2eef8"/><rect x="1695.20" y="851.70" width="13.42" height="13.39" fill="#e2eef8"/><rect x="1708.32" y="851.70" width="13.42" height="13.39" fill="#acd0e6"/><rect x="1747.67" y="851.70" width="13.42" height="13.39" fill="#135fa7"/><rect x="1760.78" y="851.70" width="13.42" height="13.39" fill="#acd0e6"/><rect x="1800.13" y="851.70" width="13.42" height="13.39" fill="#cddff1"/><rect x="1813.25" y="851.70" width="13.42" height="13.39" fill="#eef5fc"/><rect x="1852.60" y="851.70" width="13.42" height="13.39" fill="#acd0e6"/><rect x="1249.23" y="864.80" width="13.42" height="13.39" fill="#acd0e6"/><rect x="1262.35" y="864.80" width="13.42" height="13.39" fill="#cddff1"/><rect x="1275.47" y="864.80" width="13.42" height="13.39" fill="#7fb9da"/><rect x="1314.82" y="864.80" width="13.42" height="13.39" fill="#acd0e6"/><rect x="1367.28" y="864.80" width="13.42" height="13.39" fill="#7fb9da"/><rect x="1380.40" y="864.80" width="13.42" height="13.39" fill="#eef5fc"/><rect x="1419.75" y="864.80" width="13.42" height="13.39" fill="#e2eef8"/><rect x="1432.87" y="864.80" width="13.42" height="13.39" fill="#cddff1"/><rect x="1445.98" y="864.80" width="13.42" height="13.39" fill="#acd0e6"/><rect x="1459.10" y="864.80" width="13.42" height="13.39" fill="#4f9bcb"/><rect x="1472.22" y="864.80" width="13.42" height="13.39" fill="#cddff1"/><rect x="1485.33" y="864.80" width="13.42" height="13.39" fill="#e2eef8"/><rect x="1498.45" y="864.80" width="13.42" height="13.39" fill="#acd0e6"/><rect x="1537.80" y="864.80" width="13.42" height="13.39" fill="#eef5fc"/><rect x="1550.92" y="864.80" width="13.42" height="13.39" fill="#cddff1"/><rect x="1590.27" y="864.80" width="13.42" height="13.39" fill="#eef5fc"/><rect x="1603.38" y="864.80" width="13.42" height="13.39" fill="#e2eef8"/><rect x="1616.50" y="864.80" width="13.42" height="13.39" fill="#eef5fc"/><rect x="1629.62" y="864.80" width="13.42" height="13.39" fill="#eef5fc"/><rect x="1655.85" y="864.80" width="13.42" height="13.39" fill="#cddff1"/><rect x="1668.97" y="864.80" width="13.42" height="13.39" fill="#e2eef8"/><rect x="1695.20" y="864.80" width="13.42" height="13.39" fill="#e2eef8"/><rect x="1708.32" y="864.80" width="13.42" height="13.39" fill="#acd0e6"/><rect x="1760.78" y="864.80" width="13.42" height="13.39" fill="#2e7ebc"/><rect x="1773.90" y="864.80" width="13.42" height="13.39" fill="#eef5fc"/><rect x="1800.13" y="864.80" width="13.42" height="13.39" fill="#eef5fc"/><rect x="1813.25" y="864.80" width="13.42" height="13.39" fill="#cddff1"/><rect x="1826.37" y="864.80" width="13.42" height="13.39" fill="#cddff1"/><rect x="1839.48" y="864.80" width="13.42" height="13.39" fill="#eef5fc"/><rect x="1852.60" y="864.80" width="13.42" height="13.39" fill="#cddff1"/><rect x="1865.72" y="864.80" width="13.42" height="13.39" fill="#e2eef8"/><rect x="1891.95" y="864.80" width="13.42" height="13.39" fill="#e2eef8"/><rect x="1236.12" y="877.89" width="13.42" height="13.39" fill="#e2eef8"/><rect x="1249.23" y="877.89" width="13.42" height="13.39" fill="#acd0e6"/><rect x="1275.47" y="877.89" width="13.42" height="13.39" fill="#eef5fc"/><rect x="1288.58" y="877.89" width="13.42" height="13.39" fill="#eef5fc"/><rect x="1314.82" y="877.89" width="13.42" height="13.39" fill="#e2eef8"/><rect x="1341.05" y="877.89" width="13.42" height="13.39" fill="#eef5fc"/><rect x="1393.52" y="877.89" width="13.42" height="13.39" fill="#e2eef8"/><rect x="1406.63" y="877.89" width="13.42" height="13.39" fill="#eef5fc"/><rect x="1419.75" y="877.89" width="13.42" height="13.39" fill="#eef5fc"/><rect x="1432.87" y="877.89" width="13.42" height="13.39" fill="#eef5fc"/><rect x="1472.22" y="877.89" width="13.42" height="13.39" fill="#7fb9da"/><rect x="1511.57" y="877.89" width="13.42" height="13.39" fill="#4f9bcb"/><rect x="1524.68" y="877.89" width="13.42" height="13.39" fill="#e2eef8"/><rect x="1537.80" y="877.89" width="13.42" height="13.39" fill="#e2eef8"/><rect x="1629.62" y="877.89" width="13.42" height="13.39" fill="#acd0e6"/><rect x="1708.32" y="877.89" width="13.42" height="13.39" fill="#eef5fc"/><rect x="1773.90" y="877.89" width="13.42" height="13.39" fill="#4f9bcb"/><rect x="1826.37" y="877.89" width="13.42" height="13.39" fill="#cddff1"/><rect x="1839.48" y="877.89" width="13.42" height="13.39" fill="#cddff1"/><rect x="1852.60" y="877.89" width="13.42" height="13.39" fill="#acd0e6"/><rect x="1865.72" y="877.89" width="13.42" height="13.39" fill="#cddff1"/><rect x="1891.95" y="877.89" width="13.42" height="13.39" fill="#e2eef8"/><rect x="1223.00" y="890.98" width="13.42" height="13.39" fill="#cddff1"/><rect x="1249.23" y="890.98" width="13.42" height="13.39" fill="#eef5fc"/><rect x="1262.35" y="890.98" width="13.42" height="13.39" fill="#4f9bcb"/><rect x="1275.47" y="890.98" width="13.42" height="13.39" fill="#cddff1"/><rect x="1288.58" y="890.98" width="13.42" height="13.39" fill="#cddff1"/><rect x="1301.70" y="890.98" width="13.42" height="13.39" fill="#cddff1"/><rect x="1327.93" y="890.98" width="13.42" height="13.39" fill="#acd0e6"/><rect x="1341.05" y="890.98" width="13.42" height="13.39" fill="#2e7ebc"/><rect x="1393.52" y="890.98" width="13.42" height="13.39" fill="#acd0e6"/><rect x="1432.87" y="890.98" width="13.42" height="13.39" fill="#e2eef8"/><rect x="1445.98" y="890.98" width="13.42" height="13.39" fill="#cddff1"/><rect x="1485.33" y="890.98" width="13.42" height="13.39" fill="#eef5fc"/><rect x="1550.92" y="890.98" width="13.42" height="13.39" fill="#cddff1"/><rect x="1603.38" y="890.98" width="13.42" height="13.39" fill="#eef5fc"/><rect x="1629.62" y="890.98" width="13.42" height="13.39" fill="#e2eef8"/><rect x="1655.85" y="890.98" width="13.42" height="13.39" fill="#eef5fc"/><rect x="1668.97" y="890.98" width="13.42" height="13.39" fill="#eef5fc"/><rect x="1682.08" y="890.98" width="13.42" height="13.39" fill="#acd0e6"/><rect x="1708.32" y="890.98" width="13.42" height="13.39" fill="#cddff1"/><rect x="1734.55" y="890.98" width="13.42" height="13.39" fill="#cddff1"/><rect x="1787.02" y="890.98" width="13.42" height="13.39" fill="#135fa7"/><rect x="1813.25" y="890.98" width="13.42" height="13.39" fill="#eef5fc"/><rect x="1852.60" y="890.98" width="13.42" height="13.39" fill="#cddff1"/><rect x="1865.72" y="890.98" width="13.42" height="13.39" fill="#e2eef8"/><rect x="1878.83" y="890.98" width="13.42" height="13.39" fill="#cddff1"/><rect x="1905.07" y="890.98" width="13.42" height="13.39" fill="#cddff1"/><rect x="1918.18" y="890.98" width="13.42" height="13.39" fill="#eef5fc"/><rect x="1249.23" y="904.07" width="13.42" height="13.39" fill="#acd0e6"/><rect x="1262.35" y="904.07" width="13.42" height="13.39" fill="#eef5fc"/><rect x="1301.70" y="904.07" width="13.42" height="13.39" fill="#eef5fc"/><rect x="1327.93" y="904.07" width="13.42" height="13.39" fill="#eef5fc"/><rect x="1341.05" y="904.07" width="13.42" height="13.39" fill="#eef5fc"/><rect x="1393.52" y="904.07" width="13.42" height="13.39" fill="#cddff1"/><rect x="1419.75" y="904.07" width="13.42" height="13.39" fill="#acd0e6"/><rect x="1459.10" y="904.07" width="13.42" height="13.39" fill="#cddff1"/><rect x="1485.33" y="904.07" width="13.42" height="13.39" fill="#eef5fc"/><rect x="1524.68" y="904.07" width="13.42" height="13.39" fill="#cddff1"/><rect x="1550.92" y="904.07" width="13.42" height="13.39" fill="#e2eef8"/><rect x="1577.15" y="904.07" width="13.42" height="13.39" fill="#e2eef8"/><rect x="1590.27" y="904.07" width="13.42" height="13.39" fill="#e2eef8"/><rect x="1655.85" y="904.07" width="13.42" height="13.39" fill="#cddff1"/><rect x="1682.08" y="904.07" width="13.42" height="13.39" fill="#e2eef8"/><rect x="1695.20" y="904.07" width="13.42" height="13.39" fill="#e2eef8"/><rect x="1708.32" y="904.07" width="13.42" height="13.39" fill="#e2eef8"/><rect x="1721.43" y="904.07" width="13.42" height="13.39" fill="#cddff1"/><rect x="1747.67" y="904.07" width="13.42" height="13.39" fill="#e2eef8"/><rect x="1787.02" y="904.07" width="13.42" height="13.39" fill="#eef5fc"/><rect x="1800.13" y="904.07" width="13.42" height="13.39" fill="#135fa7"/><rect x="1839.48" y="904.07" width="13.42" height="13.39" fill="#cddff1"/><rect x="1852.60" y="904.07" width="13.42" height="13.39" fill="#cddff1"/><rect x="1918.18" y="904.07" width="13.42" height="13.39" fill="#cddff1"/><rect x="1223.00" y="917.17" width="13.42" height="13.39" fill="#eef5fc"/><rect x="1249.23" y="917.17" width="13.42" height="13.39" fill="#e2eef8"/><rect x="1288.58" y="917.17" width="13.42" height="13.39" fill="#cddff1"/><rect x="1314.82" y="917.17" width="13.42" height="13.39" fill="#acd0e6"/><rect x="1367.28" y="917.17" width="13.42" height="13.39" fill="#4f9bcb"/><rect x="1380.40" y="917.17" width="13.42" height="13.39" fill="#e2eef8"/><rect x="1393.52" y="917.17" width="13.42" height="13.39" fill="#eef5fc"/><rect x="1472.22" y="917.17" width="13.42" height="13.39" fill="#cddff1"/><rect x="1485.33" y="917.17" width="13.42" height="13.39" fill="#acd0e6"/><rect x="1498.45" y="917.17" width="13.42" height="13.39" fill="#e2eef8"/><rect x="1537.80" y="917.17" width="13.42" height="13.39" fill="#acd0e6"/><rect x="1616.50" y="917.17" width="13.42" height="13.39" fill="#e2eef8"/><rect x="1629.62" y="917.17" width="13.42" height="13.39" fill="#acd0e6"/><rect x="1642.73" y="917.17" width="13.42" height="13.39" fill="#e2eef8"/><rect x="1655.85" y="917.17" width="13.42" height="13.39" fill="#cddff1"/><rect x="1668.97" y="917.17" width="13.42" height="13.39" fill="#eef5fc"/><rect x="1695.20" y="917.17" width="13.42" height="13.39" fill="#e2eef8"/><rect x="1708.32" y="917.17" width="13.42" height="13.39" fill="#e2eef8"/><rect x="1734.55" y="917.17" width="13.42" height="13.39" fill="#acd0e6"/><rect x="1787.02" y="917.17" width="13.42" height="13.39" fill="#cddff1"/><rect x="1800.13" y="917.17" width="13.42" height="13.39" fill="#e2eef8"/><rect x="1813.25" y="917.17" width="13.42" height="13.39" fill="#4f9bcb"/><rect x="1826.37" y="917.17" width="13.42" height="13.39" fill="#e2eef8"/><rect x="1839.48" y="917.17" width="13.42" height="13.39" fill="#eef5fc"/><rect x="1878.83" y="917.17" width="13.42" height="13.39" fill="#acd0e6"/><rect x="1223.00" y="930.26" width="13.42" height="13.39" fill="#e2eef8"/><rect x="1236.12" y="930.26" width="13.42" height="13.39" fill="#acd0e6"/><rect x="1367.28" y="930.26" width="13.42" height="13.39" fill="#acd0e6"/><rect x="1393.52" y="930.26" width="13.42" height="13.39" fill="#acd0e6"/><rect x="1406.63" y="930.26" width="13.42" height="13.39" fill="#eef5fc"/><rect x="1419.75" y="930.26" width="13.42" height="13.39" fill="#e2eef8"/><rect x="1445.98" y="930.26" width="13.42" height="13.39" fill="#cddff1"/><rect x="1485.33" y="930.26" width="13.42" height="13.39" fill="#7fb9da"/><rect x="1524.68" y="930.26" width="13.42" height="13.39" fill="#eef5fc"/><rect x="1564.03" y="930.26" width="13.42" height="13.39" fill="#cddff1"/><rect x="1603.38" y="930.26" width="13.42" height="13.39" fill="#acd0e6"/><rect x="1642.73" y="930.26" width="13.42" height="13.39" fill="#cddff1"/><rect x="1708.32" y="930.26" width="13.42" height="13.39" fill="#e2eef8"/><rect x="1721.43" y="930.26" width="13.42" height="13.39" fill="#e2eef8"/><rect x="1747.67" y="930.26" width="13.42" height="13.39" fill="#cddff1"/><rect x="1826.37" y="930.26" width="13.42" height="13.39" fill="#4f9bcb"/><rect x="1852.60" y="930.26" width="13.42" height="13.39" fill="#eef5fc"/><rect x="1891.95" y="930.26" width="13.42" height="13.39" fill="#eef5fc"/><rect x="1905.07" y="930.26" width="13.42" height="13.39" fill="#eef5fc"/><rect x="1918.18" y="930.26" width="13.42" height="13.39" fill="#eef5fc"/><rect x="1288.58" y="943.35" width="13.42" height="13.39" fill="#e2eef8"/><rect x="1301.70" y="943.35" width="13.42" height="13.39" fill="#acd0e6"/><rect x="1327.93" y="943.35" width="13.42" height="13.39" fill="#acd0e6"/><rect x="1354.17" y="943.35" width="13.42" height="13.39" fill="#eef5fc"/><rect x="1367.28" y="943.35" width="13.42" height="13.39" fill="#7fb9da"/><rect x="1393.52" y="943.35" width="13.42" height="13.39" fill="#cddff1"/><rect x="1406.63" y="943.35" width="13.42" height="13.39" fill="#acd0e6"/><rect x="1459.10" y="943.35" width="13.42" height="13.39" fill="#cddff1"/><rect x="1485.33" y="943.35" width="13.42" height="13.39" fill="#eef5fc"/><rect x="1498.45" y="943.35" width="13.42" height="13.39" fill="#cddff1"/><rect x="1550.92" y="943.35" width="13.42" height="13.39" fill="#eef5fc"/><rect x="1603.38" y="943.35" width="13.42" height="13.39" fill="#7fb9da"/><rect x="1695.20" y="943.35" width="13.42" height="13.39" fill="#eef5fc"/><rect x="1747.67" y="943.35" width="13.42" height="13.39" fill="#e2eef8"/><rect x="1839.48" y="943.35" width="13.42" height="13.39" fill="#2e7ebc"/><rect x="1852.60" y="943.35" width="13.42" height="13.39" fill="#eef5fc"/><rect x="1878.83" y="943.35" width="13.42" height="13.39" fill="#4f9bcb"/><rect x="1891.95" y="943.35" width="13.42" height="13.39" fill="#cddff1"/><rect x="1223.00" y="956.44" width="13.42" height="13.39" fill="#e2eef8"/><rect x="1236.12" y="956.44" width="13.42" height="13.39" fill="#e2eef8"/><rect x="1249.23" y="956.44" width="13.42" height="13.39" fill="#4f9bcb"/><rect x="1288.58" y="956.44" width="13.42" height="13.39" fill="#7fb9da"/><rect x="1301.70" y="956.44" width="13.42" height="13.39" fill="#cddff1"/><rect x="1341.05" y="956.44" width="13.42" height="13.39" fill="#e2eef8"/><rect x="1367.28" y="956.44" width="13.42" height="13.39" fill="#e2eef8"/><rect x="1432.87" y="956.44" width="13.42" height="13.39" fill="#e2eef8"/><rect x="1445.98" y="956.44" width="13.42" height="13.39" fill="#eef5fc"/><rect x="1459.10" y="956.44" width="13.42" height="13.39" fill="#e2eef8"/><rect x="1485.33" y="956.44" width="13.42" height="13.39" fill="#eef5fc"/><rect x="1498.45" y="956.44" width="13.42" height="13.39" fill="#cddff1"/><rect x="1550.92" y="956.44" width="13.42" height="13.39" fill="#cddff1"/><rect x="1564.03" y="956.44" width="13.42" height="13.39" fill="#eef5fc"/><rect x="1577.15" y="956.44" width="13.42" height="13.39" fill="#eef5fc"/><rect x="1603.38" y="956.44" width="13.42" height="13.39" fill="#acd0e6"/><rect x="1642.73" y="956.44" width="13.42" height="13.39" fill="#cddff1"/><rect x="1655.85" y="956.44" width="13.42" height="13.39" fill="#7fb9da"/><rect x="1682.08" y="956.44" width="13.42" height="13.39" fill="#cddff1"/><rect x="1708.32" y="956.44" width="13.42" height="13.39" fill="#e2eef8"/><rect x="1734.55" y="956.44" width="13.42" height="13.39" fill="#e2eef8"/><rect x="1773.90" y="956.44" width="13.42" height="13.39" fill="#e2eef8"/><rect x="1813.25" y="956.44" width="13.42" height="13.39" fill="#cddff1"/><rect x="1852.60" y="956.44" width="13.42" height="13.39" fill="#135fa7"/><rect x="1878.83" y="956.44" width="13.42" height="13.39" fill="#e2eef8"/><rect x="1891.95" y="956.44" width="13.42" height="13.39" fill="#e2eef8"/><rect x="1918.18" y="956.44" width="13.42" height="13.39" fill="#cddff1"/><rect x="1236.12" y="969.54" width="13.42" height="13.39" fill="#e2eef8"/><rect x="1275.47" y="969.54" width="13.42" height="13.39" fill="#cddff1"/><rect x="1288.58" y="969.54" width="13.42" height="13.39" fill="#cddff1"/><rect x="1327.93" y="969.54" width="13.42" height="13.39" fill="#e2eef8"/><rect x="1341.05" y="969.54" width="13.42" height="13.39" fill="#acd0e6"/><rect x="1354.17" y="969.54" width="13.42" height="13.39" fill="#e2eef8"/><rect x="1367.28" y="969.54" width="13.42" height="13.39" fill="#cddff1"/><rect x="1406.63" y="969.54" width="13.42" height="13.39" fill="#acd0e6"/><rect x="1419.75" y="969.54" width="13.42" height="13.39" fill="#eef5fc"/><rect x="1432.87" y="969.54" width="13.42" height="13.39" fill="#cddff1"/><rect x="1445.98" y="969.54" width="13.42" height="13.39" fill="#7fb9da"/><rect x="1472.22" y="969.54" width="13.42" height="13.39" fill="#e2eef8"/><rect x="1485.33" y="969.54" width="13.42" height="13.39" fill="#cddff1"/><rect x="1498.45" y="969.54" width="13.42" height="13.39" fill="#7fb9da"/><rect x="1511.57" y="969.54" width="13.42" height="13.39" fill="#cddff1"/><rect x="1524.68" y="969.54" width="13.42" height="13.39" fill="#eef5fc"/><rect x="1537.80" y="969.54" width="13.42" height="13.39" fill="#eef5fc"/><rect x="1564.03" y="969.54" width="13.42" height="13.39" fill="#cddff1"/><rect x="1616.50" y="969.54" width="13.42" height="13.39" fill="#e2eef8"/><rect x="1642.73" y="969.54" width="13.42" height="13.39" fill="#eef5fc"/><rect x="1668.97" y="969.54" width="13.42" height="13.39" fill="#acd0e6"/><rect x="1682.08" y="969.54" width="13.42" height="13.39" fill="#acd0e6"/><rect x="1734.55" y="969.54" width="13.42" height="13.39" fill="#e2eef8"/><rect x="1760.78" y="969.54" width="13.42" height="13.39" fill="#e2eef8"/><rect x="1773.90" y="969.54" width="13.42" height="13.39" fill="#eef5fc"/><rect x="1787.02" y="969.54" width="13.42" height="13.39" fill="#cddff1"/><rect x="1800.13" y="969.54" width="13.42" height="13.39" fill="#7fb9da"/><rect x="1839.48" y="969.54" width="13.42" height="13.39" fill="#cddff1"/><rect x="1852.60" y="969.54" width="13.42" height="13.39" fill="#4f9bcb"/><rect x="1865.72" y="969.54" width="13.42" height="13.39" fill="#4f9bcb"/><rect x="1878.83" y="969.54" width="13.42" height="13.39" fill="#7fb9da"/><rect x="1918.18" y="969.54" width="13.42" height="13.39" fill="#e2eef8"/><rect x="1223.00" y="982.63" width="13.42" height="13.39" fill="#cddff1"/><rect x="1236.12" y="982.63" width="13.42" height="13.39" fill="#cddff1"/><rect x="1288.58" y="982.63" width="13.42" height="13.39" fill="#4f9bcb"/><rect x="1314.82" y="982.63" width="13.42" height="13.39" fill="#cddff1"/><rect x="1327.93" y="982.63" width="13.42" height="13.39" fill="#e2eef8"/><rect x="1354.17" y="982.63" width="13.42" height="13.39" fill="#eef5fc"/><rect x="1367.28" y="982.63" width="13.42" height="13.39" fill="#7fb9da"/><rect x="1380.40" y="982.63" width="13.42" height="13.39" fill="#acd0e6"/><rect x="1406.63" y="982.63" width="13.42" height="13.39" fill="#eef5fc"/><rect x="1459.10" y="982.63" width="13.42" height="13.39" fill="#acd0e6"/><rect x="1485.33" y="982.63" width="13.42" height="13.39" fill="#eef5fc"/><rect x="1511.57" y="982.63" width="13.42" height="13.39" fill="#eef5fc"/><rect x="1537.80" y="982.63" width="13.42" height="13.39" fill="#cddff1"/><rect x="1550.92" y="982.63" width="13.42" height="13.39" fill="#acd0e6"/><rect x="1564.03" y="982.63" width="13.42" height="13.39" fill="#acd0e6"/><rect x="1577.15" y="982.63" width="13.42" height="13.39" fill="#cddff1"/><rect x="1603.38" y="982.63" width="13.42" height="13.39" fill="#eef5fc"/><rect x="1629.62" y="982.63" width="13.42" height="13.39" fill="#e2eef8"/><rect x="1642.73" y="982.63" width="13.42" height="13.39" fill="#e2eef8"/><rect x="1655.85" y="982.63" width="13.42" height="13.39" fill="#e2eef8"/><rect x="1708.32" y="982.63" width="13.42" height="13.39" fill="#e2eef8"/><rect x="1760.78" y="982.63" width="13.42" height="13.39" fill="#eef5fc"/><rect x="1800.13" y="982.63" width="13.42" height="13.39" fill="#7fb9da"/><rect x="1878.83" y="982.63" width="13.42" height="13.39" fill="#08306b"/><rect x="1223.00" y="995.72" width="13.42" height="13.39" fill="#e2eef8"/><rect x="1275.47" y="995.72" width="13.42" height="13.39" fill="#cddff1"/><rect x="1288.58" y="995.72" width="13.42" height="13.39" fill="#e2eef8"/><rect x="1314.82" y="995.72" width="13.42" height="13.39" fill="#e2eef8"/><rect x="1367.28" y="995.72" width="13.42" height="13.39" fill="#eef5fc"/><rect x="1406.63" y="995.72" width="13.42" height="13.39" fill="#e2eef8"/><rect x="1419.75" y="995.72" width="13.42" height="13.39" fill="#cddff1"/><rect x="1445.98" y="995.72" width="13.42" height="13.39" fill="#eef5fc"/><rect x="1459.10" y="995.72" width="13.42" height="13.39" fill="#eef5fc"/><rect x="1485.33" y="995.72" width="13.42" height="13.39" fill="#eef5fc"/><rect x="1498.45" y="995.72" width="13.42" height="13.39" fill="#e2eef8"/><rect x="1524.68" y="995.72" width="13.42" height="13.39" fill="#eef5fc"/><rect x="1537.80" y="995.72" width="13.42" height="13.39" fill="#eef5fc"/><rect x="1550.92" y="995.72" width="13.42" height="13.39" fill="#e2eef8"/><rect x="1564.03" y="995.72" width="13.42" height="13.39" fill="#acd0e6"/><rect x="1577.15" y="995.72" width="13.42" height="13.39" fill="#acd0e6"/><rect x="1629.62" y="995.72" width="13.42" height="13.39" fill="#e2eef8"/><rect x="1655.85" y="995.72" width="13.42" height="13.39" fill="#eef5fc"/><rect x="1695.20" y="995.72" width="13.42" height="13.39" fill="#e2eef8"/><rect x="1721.43" y="995.72" width="13.42" height="13.39" fill="#eef5fc"/><rect x="1734.55" y="995.72" width="13.42" height="13.39" fill="#acd0e6"/><rect x="1760.78" y="995.72" width="13.42" height="13.39" fill="#e2eef8"/><rect x="1773.90" y="995.72" width="13.42" height="13.39" fill="#cddff1"/><rect x="1787.02" y="995.72" width="13.42" height="13.39" fill="#cddff1"/><rect x="1800.13" y="995.72" width="13.42" height="13.39" fill="#eef5fc"/><rect x="1826.37" y="995.72" width="13.42" height="13.39" fill="#e2eef8"/><rect x="1852.60" y="995.72" width="13.42" height="13.39" fill="#cddff1"/><rect x="1891.95" y="995.72" width="13.42" height="13.39" fill="#2e7ebc"/><rect x="1905.07" y="995.72" width="13.42" height="13.39" fill="#e2eef8"/><rect x="1223.00" y="1008.81" width="13.42" height="13.39" fill="#e2eef8"/><rect x="1275.47" y="1008.81" width="13.42" height="13.39" fill="#acd0e6"/><rect x="1288.58" y="1008.81" width="13.42" height="13.39" fill="#eef5fc"/><rect x="1341.05" y="1008.81" width="13.42" height="13.39" fill="#e2eef8"/><rect x="1354.17" y="1008.81" width="13.42" height="13.39" fill="#eef5fc"/><rect x="1380.40" y="1008.81" width="13.42" height="13.39" fill="#acd0e6"/><rect x="1393.52" y="1008.81" width="13.42" height="13.39" fill="#eef5fc"/><rect x="1445.98" y="1008.81" width="13.42" height="13.39" fill="#acd0e6"/><rect x="1485.33" y="1008.81" width="13.42" height="13.39" fill="#cddff1"/><rect x="1511.57" y="1008.81" width="13.42" height="13.39" fill="#e2eef8"/><rect x="1537.80" y="1008.81" width="13.42" height="13.39" fill="#eef5fc"/><rect x="1590.27" y="1008.81" width="13.42" height="13.39" fill="#cddff1"/><rect x="1603.38" y="1008.81" width="13.42" height="13.39" fill="#eef5fc"/><rect x="1655.85" y="1008.81" width="13.42" height="13.39" fill="#e2eef8"/><rect x="1682.08" y="1008.81" width="13.42" height="13.39" fill="#eef5fc"/><rect x="1708.32" y="1008.81" width="13.42" height="13.39" fill="#acd0e6"/><rect x="1721.43" y="1008.81" width="13.42" height="13.39" fill="#eef5fc"/><rect x="1734.55" y="1008.81" width="13.42" height="13.39" fill="#eef5fc"/><rect x="1852.60" y="1008.81" width="13.42" height="13.39" fill="#eef5fc"/><rect x="1865.72" y="1008.81" width="13.42" height="13.39" fill="#cddff1"/><rect x="1891.95" y="1008.81" width="13.42" height="13.39" fill="#eef5fc"/><rect x="1905.07" y="1008.81" width="13.42" height="13.39" fill="#135fa7"/><rect x="1223.00" y="1021.91" width="13.42" height="13.39" fill="#e2eef8"/><rect x="1236.12" y="1021.91" width="13.42" height="13.39" fill="#cddff1"/><rect x="1249.23" y="1021.91" width="13.42" height="13.39" fill="#eef5fc"/><rect x="1262.35" y="1021.91" width="13.42" height="13.39" fill="#cddff1"/><rect x="1288.58" y="1021.91" width="13.42" height="13.39" fill="#eef5fc"/><rect x="1380.40" y="1021.91" width="13.42" height="13.39" fill="#cddff1"/><rect x="1406.63" y="1021.91" width="13.42" height="13.39" fill="#cddff1"/><rect x="1445.98" y="1021.91" width="13.42" height="13.39" fill="#e2eef8"/><rect x="1485.33" y="1021.91" width="13.42" height="13.39" fill="#cddff1"/><rect x="1577.15" y="1021.91" width="13.42" height="13.39" fill="#cddff1"/><rect x="1655.85" y="1021.91" width="13.42" height="13.39" fill="#e2eef8"/><rect x="1668.97" y="1021.91" width="13.42" height="13.39" fill="#cddff1"/><rect x="1682.08" y="1021.91" width="13.42" height="13.39" fill="#acd0e6"/><rect x="1721.43" y="1021.91" width="13.42" height="13.39" fill="#eef5fc"/><rect x="1747.67" y="1021.91" width="13.42" height="13.39" fill="#cddff1"/><rect x="1773.90" y="1021.91" width="13.42" height="13.39" fill="#eef5fc"/><rect x="1787.02" y="1021.91" width="13.42" height="13.39" fill="#cddff1"/><rect x="1826.37" y="1021.91" width="13.42" height="13.39" fill="#cddff1"/><rect x="1839.48" y="1021.91" width="13.42" height="13.39" fill="#e2eef8"/><rect x="1852.60" y="1021.91" width="13.42" height="13.39" fill="#acd0e6"/><rect x="1905.07" y="1021.91" width="13.42" height="13.39" fill="#e2eef8"/><rect x="1918.18" y="1021.91" width="13.42" height="13.39" fill="#2e7ebc"/></g><rect x="1218" y="320" width="25" height="7.4" fill="#ed7d31"/><rect x="1259.4" y="320" width="24.6" height="7.4" fill="#ed7d31"/><rect x="1301.6" y="320" width="23.8" height="7.4" fill="#ed7d31"/><rect x="1342.6" y="320" width="11.4" height="7.4" fill="#ed7d31"/><rect x="1347.3" y="320" width="6.7" height="19.4" fill="#ed7d31"/><rect x="1347.3" y="357" width="6.7" height="24" fill="#ed7d31"/><rect x="1347.3" y="398" width="6.7" height="24" fill="#ed7d31"/><rect x="1347.3" y="440" width="6.7" height="17.6" fill="#ed7d31"/><rect x="1340.6" y="450.4" width="13.4" height="7.2" fill="#ed7d31"/><rect x="1299.4" y="450.4" width="24.6" height="7.2" fill="#ed7d31"/><rect x="1258" y="450.4" width="24.4" height="7.2" fill="#ed7d31"/><rect x="1217" y="450.4" width="24.4" height="7.2" fill="#ed7d31"/><rect x="1213.6" y="339.4" width="7" height="24.6" fill="#ed7d31"/><rect x="1213.6" y="380.6" width="7" height="24.4" fill="#ed7d31"/><rect x="1213.6" y="421.6" width="7" height="24.4" fill="#ed7d31"/>
<rect x="566.5" y="1083" width="350.5" height="101" fill="#fce9da"/>
<text x="597" y="1125.5" font-family="'Liberation Sans', sans-serif" font-size="33" fill="#000" textLength="288" lengthAdjust="spacingAndGlyphs">Loss landscape per</text>
<text x="600" y="1166" font-family="'Liberation Sans', sans-serif" font-size="33" fill="#000" textLength="282.5" lengthAdjust="spacingAndGlyphs">two eigendirections</text>
<text x="95" y="1248.5" font-family="'Liberation Serif', serif" font-size="33.42" fill="#222">Yao, Zhewei, Amir Gholami, Sheng Shen, Mustafa Mustafa, Kurt Keutzer, and Michael Mahoney.</text>
<text x="95" y="1288.8" font-family="'Liberation Serif', serif" font-size="33.42" fill="#222">"Adahessian: An adaptive second order optimizer for machine learning." In <tspan font-style="italic">proceedings of the AAAI</tspan></text>
<text x="95" y="1329" font-family="'Liberation Serif', serif" font-size="33.42" fill="#222"><tspan font-style="italic">conference on artificial intelligence</tspan>, vol. 35, no. 12, pp. 10665-10673. 2021.</text>
<text x="69.9" y="1442" font-family="'Liberation Sans', sans-serif" font-size="29" fill="#898989" textLength="318.2" lengthAdjust="spacingAndGlyphs">EE110/CS130 – Prof. Vu</text>
<text x="1897" y="1442" font-family="'Liberation Sans', sans-serif" font-size="29" fill="#898989" textLength="32.1" lengthAdjust="spacingAndGlyphs">13</text>
</svg>
</body></html>
